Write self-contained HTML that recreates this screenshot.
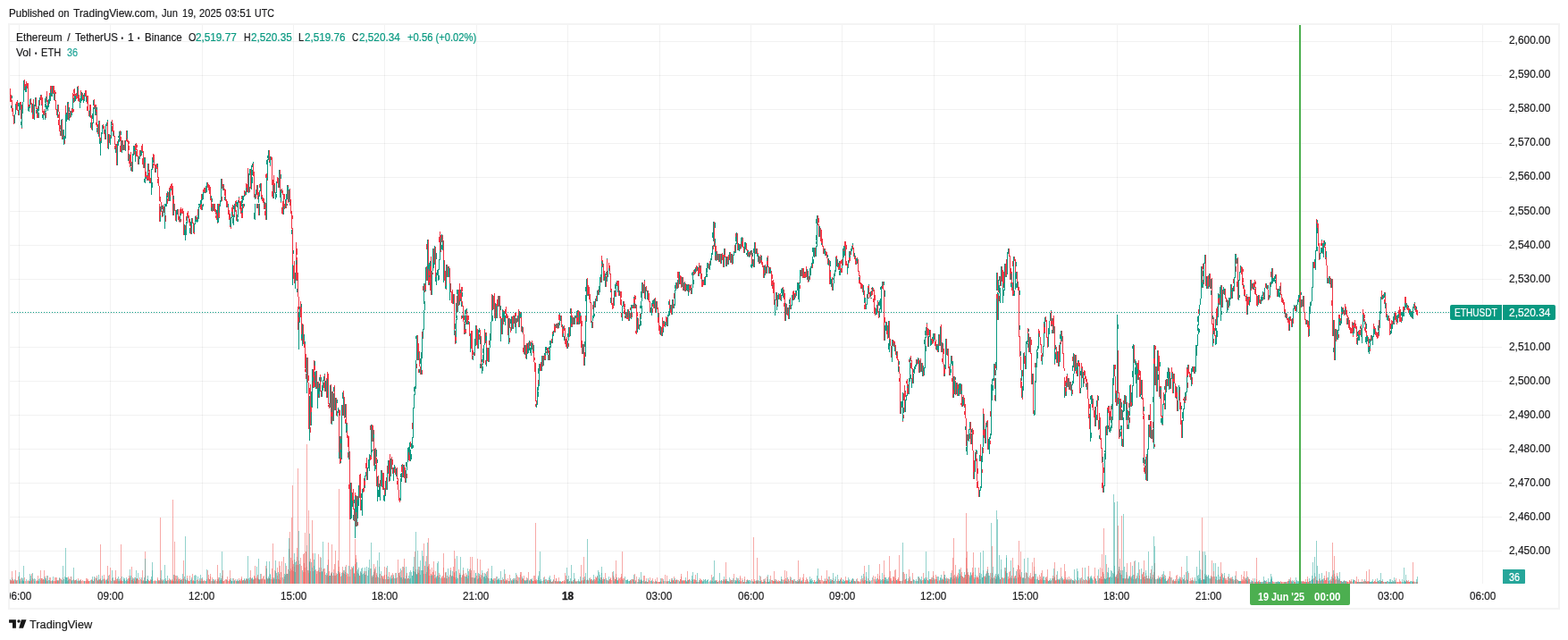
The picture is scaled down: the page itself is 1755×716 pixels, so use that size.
<!DOCTYPE html>
<html lang="en">
<head>
<meta charset="utf-8">
<title>ETHUSDT chart</title>
<style>
html,body{margin:0;padding:0;background:#fff;}
body{width:1755px;height:716px;position:relative;overflow:hidden;font-family:"Liberation Sans","DejaVu Sans",sans-serif;color:#1b1b1d;}
#frame{position:absolute;left:9px;top:26px;width:1733px;height:652px;border:2px solid #f4f4f4;}
#clip{position:absolute;left:11px;top:655px;width:1733px;height:24px;overflow:hidden;}
#clip>#inner{position:absolute;left:-11px;top:-655px;width:1755px;height:716px;}
svg{position:absolute;left:0;top:0;}
.x{position:absolute;white-space:nowrap;display:inline-block;transform-origin:0 0;-webkit-text-stroke:0.2px currentColor;}
.box{position:absolute;}
</style>
</head>
<body>
<div id="frame"></div>
<svg width="1755" height="716" viewBox="0 0 1755 716" shape-rendering="crispEdges">
<g id="grid" stroke="#000" stroke-opacity="0.05" stroke-width="1" fill="none">
<path d="M21.5 28V653M123.5 28V653M226.5 28V653M328.5 28V653M430.5 28V653M533.5 28V653M635.5 28V653M738.5 28V653M840.5 28V653M942.5 28V653M1045.5 28V653M1147.5 28V653M1250.5 28V653M1352.5 28V653M1557.5 28V653M1659.5 28V653"/>
<path d="M11 46.5H1681M11 84.5H1681M11 122.5H1681M11 160.5H1681M11 198.5H1681M11 236.5H1681M11 274.5H1681M11 312.5H1681M11 350.5H1681M11 388.5H1681M11 426.5H1681M11 464.5H1681M11 502.5H1681M11 540.5H1681M11 578.5H1681M11 616.5H1681"/>
</g>
<g id="vol"><path fill="#ef5350" fill-opacity="0.5" d="M12 649v4h1v-4zM14 650v3h1v-3zM15 650v3h1v-3zM18 649v4h1v-4zM20 645v8h1v-8zM23 647v6h1v-6zM27 646v7h1v-7zM28 650v3h1v-3zM30 650v3h1v-3zM31 649v4h1v-4zM32 650v3h1v-3zM35 642v11h1v-11zM37 648v5h1v-5zM40 650v3h1v-3zM41 649v4h1v-4zM46 647v6h1v-6zM47 647v6h1v-6zM48 648v5h1v-5zM49 638v15h1v-15zM52 644v9h1v-9zM53 650v3h1v-3zM55 646v7h1v-7zM57 650v3h1v-3zM60 650v3h1v-3zM61 646v7h1v-7zM62 646v7h1v-7zM63 649v4h1v-4zM65 650v3h1v-3zM66 647v6h1v-6zM67 647v6h1v-6zM70 646v7h1v-7zM76 645v8h1v-8zM78 648v5h1v-5zM82 648v5h1v-5zM84 649v4h1v-4zM85 649v4h1v-4zM87 647v6h1v-6zM88 650v3h1v-3zM90 650v3h1v-3zM91 650v3h1v-3zM92 649v4h1v-4zM93 650v3h1v-3zM95 650v3h1v-3zM96 650v3h1v-3zM97 649v4h1v-4zM98 650v3h1v-3zM99 650v3h1v-3zM102 649v4h1v-4zM106 646v7h1v-7zM107 647v6h1v-6zM108 644v9h1v-9zM109 650v3h1v-3zM111 648v5h1v-5zM116 647v6h1v-6zM117 650v3h1v-3zM120 647v6h1v-6zM122 643v10h1v-10zM123 649v4h1v-4zM125 647v6h1v-6zM127 649v4h1v-4zM129 646v7h1v-7zM130 650v3h1v-3zM132 650v3h1v-3zM134 650v3h1v-3zM135 649v4h1v-4zM137 650v3h1v-3zM143 650v3h1v-3zM144 647v6h1v-6zM145 646v7h1v-7zM147 649v4h1v-4zM148 648v5h1v-5zM150 648v5h1v-5zM152 648v5h1v-5zM153 647v6h1v-6zM155 649v4h1v-4zM156 646v7h1v-7zM157 648v5h1v-5zM159 638v15h1v-15zM162 644v9h1v-9zM163 650v3h1v-3zM166 650v3h1v-3zM167 650v3h1v-3zM168 649v4h1v-4zM171 650v3h1v-3zM172 650v3h1v-3zM173 650v3h1v-3zM176 648v5h1v-5zM177 650v3h1v-3zM178 650v3h1v-3zM180 649v4h1v-4zM181 650v3h1v-3zM188 649v4h1v-4zM191 650v3h1v-3zM192 650v3h1v-3zM193 650v3h1v-3zM195 647v6h1v-6zM199 646v7h1v-7zM200 650v3h1v-3zM201 647v6h1v-6zM203 648v5h1v-5zM205 648v5h1v-5zM207 648v5h1v-5zM209 644v9h1v-9zM210 650v3h1v-3zM211 650v3h1v-3zM212 650v3h1v-3zM215 642v11h1v-11zM216 650v3h1v-3zM220 649v4h1v-4zM223 649v4h1v-4zM225 647v6h1v-6zM227 650v3h1v-3zM228 649v4h1v-4zM229 650v3h1v-3zM232 638v15h1v-15zM233 647v6h1v-6zM235 645v8h1v-8zM237 646v7h1v-7zM240 649v4h1v-4zM241 648v5h1v-5zM242 650v3h1v-3zM244 648v5h1v-5zM245 650v3h1v-3zM248 644v9h1v-9zM249 650v3h1v-3zM250 650v3h1v-3zM251 649v4h1v-4zM252 648v5h1v-5zM253 648v5h1v-5zM254 645v8h1v-8zM255 650v3h1v-3zM256 648v5h1v-5zM257 649v4h1v-4zM263 648v5h1v-5zM264 650v3h1v-3zM266 650v3h1v-3zM267 647v6h1v-6zM268 649v4h1v-4zM269 648v5h1v-5zM270 647v6h1v-6zM272 649v4h1v-4zM274 649v4h1v-4zM276 648v5h1v-5zM277 648v5h1v-5zM280 638v15h1v-15zM281 648v5h1v-5zM284 648v5h1v-5zM285 645v8h1v-8zM286 647v6h1v-6zM288 647v6h1v-6zM289 648v5h1v-5zM292 648v5h1v-5zM294 645v8h1v-8zM295 644v9h1v-9zM296 648v5h1v-5zM297 633v20h1v-20zM301 647v6h1v-6zM303 648v5h1v-5zM304 636v17h1v-17zM305 649v4h1v-4zM307 638v15h1v-15zM310 644v9h1v-9zM313 649v4h1v-4zM314 640v13h1v-13zM315 628v25h1v-25zM317 648v5h1v-5zM318 645v8h1v-8zM322 642v11h1v-11zM325 624v29h1v-29zM326 638v15h1v-15zM328 631v22h1v-22zM329 626v27h1v-27zM333 632v21h1v-21zM334 627v26h1v-26zM336 624v29h1v-29zM337 633v20h1v-20zM339 640v13h1v-13zM340 619v34h1v-34zM341 635v18h1v-18zM342 617v36h1v-36zM343 634v19h1v-19zM344 638v15h1v-15zM347 625v28h1v-28zM349 582v71h1v-71zM353 637v16h1v-16zM354 642v11h1v-11zM355 639v14h1v-14zM356 638v15h1v-15zM357 640v13h1v-13zM358 623v30h1v-30zM359 635v18h1v-18zM361 637v16h1v-16zM362 636v17h1v-17zM363 640v13h1v-13zM366 643v10h1v-10zM367 645v8h1v-8zM368 639v14h1v-14zM372 644v9h1v-9zM373 637v16h1v-16zM374 631v22h1v-22zM376 641v12h1v-12zM378 627v26h1v-26zM379 634v19h1v-19zM380 642v11h1v-11zM381 645v8h1v-8zM383 640v13h1v-13zM385 642v11h1v-11zM387 643v10h1v-10zM388 641v12h1v-12zM389 645v8h1v-8zM391 645v8h1v-8zM393 634v19h1v-19zM394 635v18h1v-18zM396 641v12h1v-12zM397 631v22h1v-22zM398 621v32h1v-32zM400 641v12h1v-12zM402 644v9h1v-9zM403 640v13h1v-13zM407 639v14h1v-14zM409 639v14h1v-14zM414 636v17h1v-17zM416 646v7h1v-7zM421 643v10h1v-10zM423 646v7h1v-7zM425 647v6h1v-6zM427 644v9h1v-9zM429 644v9h1v-9zM430 643v10h1v-10zM432 643v10h1v-10zM434 648v5h1v-5zM435 640v13h1v-13zM438 643v10h1v-10zM439 647v6h1v-6zM442 647v6h1v-6zM444 646v7h1v-7zM445 626v27h1v-27zM449 638v15h1v-15zM450 634v19h1v-19zM452 635v18h1v-18zM454 644v9h1v-9zM467 637v16h1v-16zM468 641v12h1v-12zM469 638v15h1v-15zM473 638v15h1v-15zM474 642v11h1v-11zM475 633v20h1v-20zM477 640v13h1v-13zM479 633v20h1v-20zM480 644v9h1v-9zM481 637v16h1v-16zM482 642v11h1v-11zM483 635v18h1v-18zM484 640v13h1v-13zM485 628v25h1v-25zM487 639v14h1v-14zM491 641v12h1v-12zM494 646v7h1v-7zM495 644v9h1v-9zM496 635v18h1v-18zM498 640v13h1v-13zM500 647v6h1v-6zM503 643v10h1v-10zM504 635v18h1v-18zM505 644v9h1v-9zM507 634v19h1v-19zM508 640v13h1v-13zM509 646v7h1v-7zM513 637v16h1v-16zM514 641v12h1v-12zM516 646v7h1v-7zM517 643v10h1v-10zM519 642v11h1v-11zM521 641v12h1v-12zM522 643v10h1v-10zM525 637v16h1v-16zM527 646v7h1v-7zM528 623v30h1v-30zM529 646v7h1v-7zM530 638v15h1v-15zM531 647v6h1v-6zM533 644v9h1v-9zM534 648v5h1v-5zM537 646v7h1v-7zM538 648v5h1v-5zM540 641v12h1v-12zM544 640v13h1v-13zM545 646v7h1v-7zM546 636v17h1v-17zM551 648v5h1v-5zM552 649v4h1v-4zM553 647v6h1v-6zM555 649v4h1v-4zM561 649v4h1v-4zM563 648v5h1v-5zM565 650v3h1v-3zM566 648v5h1v-5zM568 647v6h1v-6zM570 643v10h1v-10zM573 650v3h1v-3zM576 647v6h1v-6zM578 643v10h1v-10zM579 645v8h1v-8zM580 646v7h1v-7zM582 640v13h1v-13zM583 640v13h1v-13zM585 647v6h1v-6zM588 649v4h1v-4zM589 646v7h1v-7zM591 640v13h1v-13zM593 648v5h1v-5zM594 648v5h1v-5zM596 650v3h1v-3zM597 650v3h1v-3zM598 644v9h1v-9zM599 650v3h1v-3zM600 650v3h1v-3zM607 650v3h1v-3zM609 649v4h1v-4zM612 649v4h1v-4zM613 651v2h1v-2zM617 651v2h1v-2zM620 643v10h1v-10zM621 650v3h1v-3zM622 647v6h1v-6zM624 650v3h1v-3zM627 651v2h1v-2zM628 651v2h1v-2zM629 650v3h1v-3zM630 650v3h1v-3zM632 650v3h1v-3zM633 644v9h1v-9zM635 648v5h1v-5zM637 650v3h1v-3zM640 650v3h1v-3zM642 649v4h1v-4zM647 650v3h1v-3zM649 651v2h1v-2zM650 650v3h1v-3zM651 649v4h1v-4zM653 649v4h1v-4zM657 648v5h1v-5zM658 650v3h1v-3zM660 646v7h1v-7zM661 648v5h1v-5zM663 650v3h1v-3zM665 648v5h1v-5zM666 649v4h1v-4zM667 646v7h1v-7zM672 646v7h1v-7zM674 648v5h1v-5zM675 648v5h1v-5zM677 641v12h1v-12zM678 649v4h1v-4zM680 649v4h1v-4zM682 648v5h1v-5zM683 646v7h1v-7zM684 649v4h1v-4zM685 640v13h1v-13zM686 644v9h1v-9zM687 646v7h1v-7zM688 648v5h1v-5zM692 648v5h1v-5zM693 647v6h1v-6zM694 649v4h1v-4zM695 642v11h1v-11zM696 648v5h1v-5zM697 647v6h1v-6zM698 647v6h1v-6zM705 649v4h1v-4zM706 650v3h1v-3zM707 648v5h1v-5zM708 648v5h1v-5zM710 642v11h1v-11zM712 645v8h1v-8zM719 650v3h1v-3zM720 644v9h1v-9zM721 651v2h1v-2zM724 651v2h1v-2zM726 649v4h1v-4zM727 646v7h1v-7zM730 651v2h1v-2zM731 650v3h1v-3zM733 648v5h1v-5zM735 651v2h1v-2zM736 651v2h1v-2zM737 651v2h1v-2zM740 651v2h1v-2zM741 647v6h1v-6zM743 650v3h1v-3zM744 643v10h1v-10zM746 644v9h1v-9zM751 647v6h1v-6zM753 650v3h1v-3zM754 649v4h1v-4zM757 649v4h1v-4zM759 649v4h1v-4zM761 648v5h1v-5zM762 645v8h1v-8zM764 649v4h1v-4zM765 650v3h1v-3zM766 649v4h1v-4zM769 651v2h1v-2zM771 648v5h1v-5zM773 650v3h1v-3zM776 651v2h1v-2zM777 648v5h1v-5zM779 649v4h1v-4zM781 651v2h1v-2zM783 647v6h1v-6zM784 648v5h1v-5zM793 651v2h1v-2zM799 650v3h1v-3zM801 649v4h1v-4zM802 651v2h1v-2zM804 650v3h1v-3zM808 650v3h1v-3zM809 648v5h1v-5zM811 648v5h1v-5zM812 648v5h1v-5zM814 650v3h1v-3zM817 648v5h1v-5zM818 649v4h1v-4zM819 651v2h1v-2zM821 642v11h1v-11zM825 649v4h1v-4zM828 644v9h1v-9zM830 647v6h1v-6zM831 651v2h1v-2zM832 651v2h1v-2zM835 649v4h1v-4zM836 648v5h1v-5zM841 648v5h1v-5zM843 651v2h1v-2zM844 650v3h1v-3zM845 650v3h1v-3zM847 651v2h1v-2zM849 650v3h1v-3zM851 645v8h1v-8zM852 649v4h1v-4zM853 651v2h1v-2zM854 648v5h1v-5zM856 650v3h1v-3zM857 651v2h1v-2zM860 651v2h1v-2zM862 651v2h1v-2zM864 649v4h1v-4zM865 650v3h1v-3zM869 651v2h1v-2zM871 649v4h1v-4zM872 650v3h1v-3zM873 651v2h1v-2zM875 648v5h1v-5zM877 648v5h1v-5zM878 649v4h1v-4zM879 647v6h1v-6zM881 651v2h1v-2zM882 648v5h1v-5zM884 648v5h1v-5zM886 649v4h1v-4zM887 649v4h1v-4zM889 648v5h1v-5zM890 650v3h1v-3zM893 651v2h1v-2zM895 648v5h1v-5zM897 650v3h1v-3zM898 651v2h1v-2zM899 642v11h1v-11zM902 651v2h1v-2zM904 651v2h1v-2zM911 649v4h1v-4zM915 651v2h1v-2zM916 648v5h1v-5zM917 649v4h1v-4zM918 651v2h1v-2zM919 644v9h1v-9zM920 649v4h1v-4zM921 650v3h1v-3zM923 647v6h1v-6zM924 650v3h1v-3zM925 650v3h1v-3zM926 648v5h1v-5zM928 645v8h1v-8zM931 649v4h1v-4zM932 647v6h1v-6zM933 650v3h1v-3zM936 650v3h1v-3zM937 650v3h1v-3zM938 648v5h1v-5zM941 647v6h1v-6zM946 649v4h1v-4zM947 650v3h1v-3zM948 650v3h1v-3zM951 651v2h1v-2zM952 649v4h1v-4zM955 650v3h1v-3zM957 651v2h1v-2zM960 651v2h1v-2zM962 651v2h1v-2zM963 650v3h1v-3zM965 649v4h1v-4zM967 649v4h1v-4zM968 649v4h1v-4zM971 647v6h1v-6zM973 651v2h1v-2zM975 649v4h1v-4zM977 644v9h1v-9zM978 648v5h1v-5zM979 650v3h1v-3zM982 647v6h1v-6zM983 649v4h1v-4zM984 644v9h1v-9zM988 650v3h1v-3zM989 643v10h1v-10zM992 650v3h1v-3zM994 650v3h1v-3zM995 645v8h1v-8zM996 639v14h1v-14zM997 649v4h1v-4zM1000 645v8h1v-8zM1001 650v3h1v-3zM1002 637v16h1v-16zM1004 650v3h1v-3zM1005 646v7h1v-7zM1006 650v3h1v-3zM1007 650v3h1v-3zM1009 650v3h1v-3zM1010 640v13h1v-13zM1011 640v13h1v-13zM1012 649v4h1v-4zM1013 648v5h1v-5zM1016 650v3h1v-3zM1017 649v4h1v-4zM1019 650v3h1v-3zM1020 650v3h1v-3zM1021 641v12h1v-12zM1024 650v3h1v-3zM1030 649v4h1v-4zM1032 649v4h1v-4zM1033 649v4h1v-4zM1037 646v7h1v-7zM1038 649v4h1v-4zM1041 648v5h1v-5zM1042 648v5h1v-5zM1044 644v9h1v-9zM1046 648v5h1v-5zM1047 648v5h1v-5zM1048 648v5h1v-5zM1051 649v4h1v-4zM1055 649v4h1v-4zM1056 646v7h1v-7zM1059 648v5h1v-5zM1062 648v5h1v-5zM1066 624v29h1v-29zM1068 647v6h1v-6zM1069 645v8h1v-8zM1071 643v10h1v-10zM1072 641v12h1v-12zM1076 640v13h1v-13zM1078 647v6h1v-6zM1080 643v10h1v-10zM1081 624v29h1v-29zM1083 643v10h1v-10zM1084 643v10h1v-10zM1087 643v10h1v-10zM1088 635v18h1v-18zM1089 640v13h1v-13zM1090 646v7h1v-7zM1092 646v7h1v-7zM1093 645v8h1v-8zM1094 646v7h1v-7zM1097 648v5h1v-5zM1101 645v8h1v-8zM1102 645v8h1v-8zM1104 639v14h1v-14zM1105 634v19h1v-19zM1108 648v5h1v-5zM1109 646v7h1v-7zM1112 646v7h1v-7zM1113 644v9h1v-9zM1114 648v5h1v-5zM1116 643v10h1v-10zM1119 648v5h1v-5zM1121 646v7h1v-7zM1122 646v7h1v-7zM1125 635v18h1v-18zM1128 648v5h1v-5zM1129 640v13h1v-13zM1130 647v6h1v-6zM1132 644v9h1v-9zM1133 624v29h1v-29zM1135 645v8h1v-8zM1136 644v9h1v-9zM1138 637v16h1v-16zM1139 646v7h1v-7zM1140 633v20h1v-20zM1141 643v10h1v-10zM1142 645v8h1v-8zM1144 646v7h1v-7zM1146 641v12h1v-12zM1147 647v6h1v-6zM1148 640v13h1v-13zM1149 641v12h1v-12zM1151 646v7h1v-7zM1152 644v9h1v-9zM1153 648v5h1v-5zM1154 646v7h1v-7zM1156 645v8h1v-8zM1157 634v19h1v-19zM1163 649v4h1v-4zM1164 645v8h1v-8zM1165 641v12h1v-12zM1166 647v6h1v-6zM1171 645v8h1v-8zM1172 649v4h1v-4zM1174 649v4h1v-4zM1178 647v6h1v-6zM1180 645v8h1v-8zM1181 650v3h1v-3zM1182 643v10h1v-10zM1184 649v4h1v-4zM1185 649v4h1v-4zM1187 635v18h1v-18zM1189 649v4h1v-4zM1190 648v5h1v-5zM1191 650v3h1v-3zM1192 646v7h1v-7zM1194 646v7h1v-7zM1195 649v4h1v-4zM1196 650v3h1v-3zM1198 647v6h1v-6zM1202 650v3h1v-3zM1204 649v4h1v-4zM1207 649v4h1v-4zM1209 649v4h1v-4zM1211 635v18h1v-18zM1213 649v4h1v-4zM1215 649v4h1v-4zM1216 649v4h1v-4zM1217 650v3h1v-3zM1223 649v4h1v-4zM1224 645v8h1v-8zM1225 635v18h1v-18zM1228 644v9h1v-9zM1229 649v4h1v-4zM1231 635v18h1v-18zM1232 648v5h1v-5zM1233 648v5h1v-5zM1238 631v22h1v-22zM1241 646v7h1v-7zM1247 640v13h1v-13zM1248 645v8h1v-8zM1249 643v10h1v-10zM1250 642v11h1v-11zM1251 639v14h1v-14zM1252 637v16h1v-16zM1253 625v28h1v-28zM1255 643v10h1v-10zM1259 647v6h1v-6zM1261 643v10h1v-10zM1263 647v6h1v-6zM1265 629v24h1v-24zM1269 628v25h1v-25zM1272 644v9h1v-9zM1275 637v16h1v-16zM1278 642v11h1v-11zM1280 645v8h1v-8zM1281 648v5h1v-5zM1283 647v6h1v-6zM1284 647v6h1v-6zM1285 644v9h1v-9zM1286 647v6h1v-6zM1288 637v16h1v-16zM1290 643v10h1v-10zM1292 630v23h1v-23zM1294 648v5h1v-5zM1299 648v5h1v-5zM1300 646v7h1v-7zM1303 643v10h1v-10zM1306 650v3h1v-3zM1307 647v6h1v-6zM1308 645v8h1v-8zM1309 639v14h1v-14zM1311 646v7h1v-7zM1313 649v4h1v-4zM1314 650v3h1v-3zM1315 648v5h1v-5zM1316 644v9h1v-9zM1317 643v10h1v-10zM1320 648v5h1v-5zM1321 648v5h1v-5zM1325 647v6h1v-6zM1326 649v4h1v-4zM1327 640v13h1v-13zM1330 641v12h1v-12zM1331 650v3h1v-3zM1332 650v3h1v-3zM1334 646v7h1v-7zM1336 650v3h1v-3zM1337 648v5h1v-5zM1345 638v15h1v-15zM1346 649v4h1v-4zM1349 644v9h1v-9zM1355 644v9h1v-9zM1356 648v5h1v-5zM1357 645v8h1v-8zM1359 645v8h1v-8zM1362 649v4h1v-4zM1364 649v4h1v-4zM1366 648v5h1v-5zM1367 643v10h1v-10zM1371 649v4h1v-4zM1372 647v6h1v-6zM1373 649v4h1v-4zM1374 645v8h1v-8zM1377 646v7h1v-7zM1378 648v5h1v-5zM1379 648v5h1v-5zM1381 649v4h1v-4zM1383 650v3h1v-3zM1385 649v4h1v-4zM1389 650v3h1v-3zM1390 648v5h1v-5zM1391 645v8h1v-8zM1392 639v14h1v-14zM1393 648v5h1v-5zM1397 646v7h1v-7zM1403 651v2h1v-2zM1404 651v2h1v-2zM1405 651v2h1v-2zM1406 650v3h1v-3zM1407 651v2h1v-2zM1409 649v4h1v-4zM1410 651v2h1v-2zM1413 651v2h1v-2zM1414 650v3h1v-3zM1416 650v3h1v-3zM1418 651v2h1v-2zM1419 651v2h1v-2zM1421 651v2h1v-2zM1424 651v2h1v-2zM1425 651v2h1v-2zM1426 651v2h1v-2zM1428 651v2h1v-2zM1429 651v2h1v-2zM1433 650v3h1v-3zM1434 651v2h1v-2zM1435 651v2h1v-2zM1436 651v2h1v-2zM1438 651v2h1v-2zM1440 651v2h1v-2zM1441 650v3h1v-3zM1442 648v5h1v-5zM1444 646v7h1v-7zM1445 651v2h1v-2zM1449 651v2h1v-2zM1455 651v2h1v-2zM1457 651v2h1v-2zM1459 651v2h1v-2zM1460 651v2h1v-2zM1461 648v5h1v-5zM1463 645v8h1v-8zM1464 651v2h1v-2zM1465 650v3h1v-3zM1466 650v3h1v-3zM1470 647v6h1v-6zM1472 645v8h1v-8zM1473 649v4h1v-4zM1475 650v3h1v-3zM1479 648v5h1v-5zM1482 644v9h1v-9zM1483 649v4h1v-4zM1484 649v4h1v-4zM1485 646v7h1v-7zM1489 648v5h1v-5zM1491 643v10h1v-10zM1493 642v11h1v-11zM1495 648v5h1v-5zM1496 641v12h1v-12zM1497 649v4h1v-4zM1498 649v4h1v-4zM1499 648v5h1v-5zM1500 650v3h1v-3zM1502 651v2h1v-2zM1505 650v3h1v-3zM1507 651v2h1v-2zM1508 651v2h1v-2zM1509 651v2h1v-2zM1510 649v4h1v-4zM1513 651v2h1v-2zM1516 649v4h1v-4zM1517 650v3h1v-3zM1518 645v8h1v-8zM1521 651v2h1v-2zM1526 650v3h1v-3zM1527 651v2h1v-2zM1530 651v2h1v-2zM1531 651v2h1v-2zM1536 651v2h1v-2zM1538 650v3h1v-3zM1540 651v2h1v-2zM1543 651v2h1v-2zM1545 650v3h1v-3zM1548 651v2h1v-2zM1550 651v2h1v-2zM1551 651v2h1v-2zM1555 651v2h1v-2zM1558 651v2h1v-2zM1560 651v2h1v-2zM1563 651v2h1v-2zM1564 651v2h1v-2zM1565 651v2h1v-2zM1566 651v2h1v-2zM1567 651v2h1v-2zM1568 651v2h1v-2zM1573 651v2h1v-2zM1574 650v3h1v-3zM1576 649v4h1v-4zM1577 651v2h1v-2zM1582 651v2h1v-2zM1584 651v2h1v-2z"/>
<path fill="#26a69a" fill-opacity="0.5" d="M11 648v5h1v-5zM13 646v7h1v-7zM16 648v5h1v-5zM17 649v4h1v-4zM19 649v4h1v-4zM21 644v9h1v-9zM22 648v5h1v-5zM24 650v3h1v-3zM25 649v4h1v-4zM26 650v3h1v-3zM29 648v5h1v-5zM33 642v11h1v-11zM34 644v9h1v-9zM36 641v12h1v-12zM38 647v6h1v-6zM39 648v5h1v-5zM42 650v3h1v-3zM43 648v5h1v-5zM44 647v6h1v-6zM45 649v4h1v-4zM50 645v8h1v-8zM51 649v4h1v-4zM54 649v4h1v-4zM56 650v3h1v-3zM58 650v3h1v-3zM59 645v8h1v-8zM64 649v4h1v-4zM68 648v5h1v-5zM69 649v4h1v-4zM71 648v5h1v-5zM72 645v8h1v-8zM73 649v4h1v-4zM74 646v7h1v-7zM75 646v7h1v-7zM77 648v5h1v-5zM79 645v8h1v-8zM80 650v3h1v-3zM81 649v4h1v-4zM83 650v3h1v-3zM86 650v3h1v-3zM89 649v4h1v-4zM94 650v3h1v-3zM100 650v3h1v-3zM101 649v4h1v-4zM103 645v8h1v-8zM104 650v3h1v-3zM105 645v8h1v-8zM110 648v5h1v-5zM112 647v6h1v-6zM113 650v3h1v-3zM114 644v9h1v-9zM115 648v5h1v-5zM118 649v4h1v-4zM119 649v4h1v-4zM121 650v3h1v-3zM124 650v3h1v-3zM126 646v7h1v-7zM128 649v4h1v-4zM131 647v6h1v-6zM133 650v3h1v-3zM136 645v8h1v-8zM138 646v7h1v-7zM139 647v6h1v-6zM140 650v3h1v-3zM141 649v4h1v-4zM142 648v5h1v-5zM146 644v9h1v-9zM149 647v6h1v-6zM151 646v7h1v-7zM154 641v12h1v-12zM158 646v7h1v-7zM160 650v3h1v-3zM161 646v7h1v-7zM164 650v3h1v-3zM165 644v9h1v-9zM169 649v4h1v-4zM170 638v15h1v-15zM174 650v3h1v-3zM175 650v3h1v-3zM179 650v3h1v-3zM182 649v4h1v-4zM183 648v5h1v-5zM184 650v3h1v-3zM185 647v6h1v-6zM186 650v3h1v-3zM187 644v9h1v-9zM189 650v3h1v-3zM190 648v5h1v-5zM194 643v10h1v-10zM196 650v3h1v-3zM197 648v5h1v-5zM198 650v3h1v-3zM202 649v4h1v-4zM204 650v3h1v-3zM206 645v8h1v-8zM208 649v4h1v-4zM213 649v4h1v-4zM214 648v5h1v-5zM217 650v3h1v-3zM218 643v10h1v-10zM219 644v9h1v-9zM221 645v8h1v-8zM222 650v3h1v-3zM224 643v10h1v-10zM226 646v7h1v-7zM230 650v3h1v-3zM231 650v3h1v-3zM234 648v5h1v-5zM236 650v3h1v-3zM238 648v5h1v-5zM239 648v5h1v-5zM243 650v3h1v-3zM246 649v4h1v-4zM247 647v6h1v-6zM258 649v4h1v-4zM259 650v3h1v-3zM260 647v6h1v-6zM261 650v3h1v-3zM262 649v4h1v-4zM265 649v4h1v-4zM271 650v3h1v-3zM273 648v5h1v-5zM275 647v6h1v-6zM278 647v6h1v-6zM279 649v4h1v-4zM282 646v7h1v-7zM283 648v5h1v-5zM287 634v19h1v-19zM290 649v4h1v-4zM291 642v11h1v-11zM293 648v5h1v-5zM298 646v7h1v-7zM299 648v5h1v-5zM300 647v6h1v-6zM302 642v11h1v-11zM306 646v7h1v-7zM308 627v26h1v-26zM309 641v12h1v-12zM311 640v13h1v-13zM312 648v5h1v-5zM316 646v7h1v-7zM319 643v10h1v-10zM320 642v11h1v-11zM321 642v11h1v-11zM323 602v51h1v-51zM324 639v14h1v-14zM327 634v19h1v-19zM330 629v24h1v-24zM331 628v25h1v-25zM332 623v30h1v-30zM335 631v22h1v-22zM338 638v15h1v-15zM345 638v15h1v-15zM346 628v25h1v-25zM348 629v24h1v-24zM350 639v14h1v-14zM351 633v20h1v-20zM352 638v15h1v-15zM360 639v14h1v-14zM364 643v10h1v-10zM365 641v12h1v-12zM369 644v9h1v-9zM370 642v11h1v-11zM371 640v13h1v-13zM375 644v9h1v-9zM377 642v11h1v-11zM382 641v12h1v-12zM384 641v12h1v-12zM386 640v13h1v-13zM390 633v20h1v-20zM392 637v16h1v-16zM395 633v20h1v-20zM399 639v14h1v-14zM401 642v11h1v-11zM404 641v12h1v-12zM405 635v18h1v-18zM406 642v11h1v-11zM408 635v18h1v-18zM410 634v19h1v-19zM411 644v9h1v-9zM412 638v15h1v-15zM413 626v27h1v-27zM415 636v17h1v-17zM417 645v8h1v-8zM418 640v13h1v-13zM419 636v17h1v-17zM420 646v7h1v-7zM422 645v8h1v-8zM424 618v35h1v-35zM426 639v14h1v-14zM428 647v6h1v-6zM431 648v5h1v-5zM433 633v20h1v-20zM436 646v7h1v-7zM437 648v5h1v-5zM440 643v10h1v-10zM441 647v6h1v-6zM443 641v12h1v-12zM446 641v12h1v-12zM447 644v9h1v-9zM448 646v7h1v-7zM451 634v19h1v-19zM453 647v6h1v-6zM455 648v5h1v-5zM456 647v6h1v-6zM457 644v9h1v-9zM458 640v13h1v-13zM459 638v15h1v-15zM460 640v13h1v-13zM461 644v9h1v-9zM462 639v14h1v-14zM463 623v30h1v-30zM464 640v13h1v-13zM465 637v16h1v-16zM466 642v11h1v-11zM470 643v10h1v-10zM471 638v15h1v-15zM472 616v37h1v-37zM476 628v25h1v-25zM478 634v19h1v-19zM486 643v10h1v-10zM488 645v8h1v-8zM489 630v23h1v-23zM490 628v25h1v-25zM492 643v10h1v-10zM493 647v6h1v-6zM497 646v7h1v-7zM499 640v13h1v-13zM501 636v17h1v-17zM502 645v8h1v-8zM506 639v14h1v-14zM510 648v5h1v-5zM511 646v7h1v-7zM512 647v6h1v-6zM515 643v10h1v-10zM518 635v18h1v-18zM520 645v8h1v-8zM523 636v17h1v-17zM524 639v14h1v-14zM526 641v12h1v-12zM532 641v12h1v-12zM535 647v6h1v-6zM536 642v11h1v-11zM539 638v15h1v-15zM541 645v8h1v-8zM542 645v8h1v-8zM543 647v6h1v-6zM547 647v6h1v-6zM548 650v3h1v-3zM549 647v6h1v-6zM550 647v6h1v-6zM554 647v6h1v-6zM556 645v8h1v-8zM557 648v5h1v-5zM558 647v6h1v-6zM559 649v4h1v-4zM560 639v14h1v-14zM562 646v7h1v-7zM564 650v3h1v-3zM567 650v3h1v-3zM569 650v3h1v-3zM571 647v6h1v-6zM572 649v4h1v-4zM574 647v6h1v-6zM575 647v6h1v-6zM577 641v12h1v-12zM581 646v7h1v-7zM584 645v8h1v-8zM586 649v4h1v-4zM587 649v4h1v-4zM590 649v4h1v-4zM592 650v3h1v-3zM595 647v6h1v-6zM601 649v4h1v-4zM602 646v7h1v-7zM603 649v4h1v-4zM604 651v2h1v-2zM605 648v5h1v-5zM606 650v3h1v-3zM608 646v7h1v-7zM610 648v5h1v-5zM611 648v5h1v-5zM614 646v7h1v-7zM615 644v9h1v-9zM616 648v5h1v-5zM618 650v3h1v-3zM619 648v5h1v-5zM623 650v3h1v-3zM625 650v3h1v-3zM626 651v2h1v-2zM631 651v2h1v-2zM634 648v5h1v-5zM636 651v2h1v-2zM638 647v6h1v-6zM639 651v2h1v-2zM641 649v4h1v-4zM643 647v6h1v-6zM644 651v2h1v-2zM645 651v2h1v-2zM646 650v3h1v-3zM648 651v2h1v-2zM652 650v3h1v-3zM654 648v5h1v-5zM655 641v12h1v-12zM656 649v4h1v-4zM659 647v6h1v-6zM662 650v3h1v-3zM664 648v5h1v-5zM668 644v9h1v-9zM669 650v3h1v-3zM670 640v13h1v-13zM671 648v5h1v-5zM673 646v7h1v-7zM676 648v5h1v-5zM679 649v4h1v-4zM681 645v8h1v-8zM689 648v5h1v-5zM690 649v4h1v-4zM691 650v3h1v-3zM699 645v8h1v-8zM700 649v4h1v-4zM701 649v4h1v-4zM702 649v4h1v-4zM703 650v3h1v-3zM704 650v3h1v-3zM709 649v4h1v-4zM711 650v3h1v-3zM713 651v2h1v-2zM714 651v2h1v-2zM715 648v5h1v-5zM716 651v2h1v-2zM717 648v5h1v-5zM718 649v4h1v-4zM722 650v3h1v-3zM723 650v3h1v-3zM725 647v6h1v-6zM728 650v3h1v-3zM729 650v3h1v-3zM732 651v2h1v-2zM734 650v3h1v-3zM738 651v2h1v-2zM739 647v6h1v-6zM742 650v3h1v-3zM745 650v3h1v-3zM747 650v3h1v-3zM748 650v3h1v-3zM749 648v5h1v-5zM750 651v2h1v-2zM752 647v6h1v-6zM755 651v2h1v-2zM756 649v4h1v-4zM758 649v4h1v-4zM760 650v3h1v-3zM763 649v4h1v-4zM767 646v7h1v-7zM768 651v2h1v-2zM770 649v4h1v-4zM772 649v4h1v-4zM774 648v5h1v-5zM775 649v4h1v-4zM778 649v4h1v-4zM780 651v2h1v-2zM782 649v4h1v-4zM785 649v4h1v-4zM786 651v2h1v-2zM787 650v3h1v-3zM788 649v4h1v-4zM789 648v5h1v-5zM790 650v3h1v-3zM791 649v4h1v-4zM792 648v5h1v-5zM794 650v3h1v-3zM795 649v4h1v-4zM796 650v3h1v-3zM797 646v7h1v-7zM798 645v8h1v-8zM800 650v3h1v-3zM803 651v2h1v-2zM805 641v12h1v-12zM806 650v3h1v-3zM807 649v4h1v-4zM810 645v8h1v-8zM813 650v3h1v-3zM815 651v2h1v-2zM816 646v7h1v-7zM820 649v4h1v-4zM822 649v4h1v-4zM823 649v4h1v-4zM824 646v7h1v-7zM826 650v3h1v-3zM827 649v4h1v-4zM829 651v2h1v-2zM833 648v5h1v-5zM834 651v2h1v-2zM837 650v3h1v-3zM838 651v2h1v-2zM839 649v4h1v-4zM840 650v3h1v-3zM842 651v2h1v-2zM846 650v3h1v-3zM848 649v4h1v-4zM850 644v9h1v-9zM855 650v3h1v-3zM858 651v2h1v-2zM859 648v5h1v-5zM861 648v5h1v-5zM863 649v4h1v-4zM866 650v3h1v-3zM867 648v5h1v-5zM868 650v3h1v-3zM870 650v3h1v-3zM874 645v8h1v-8zM876 649v4h1v-4zM880 650v3h1v-3zM883 650v3h1v-3zM885 646v7h1v-7zM888 648v5h1v-5zM891 650v3h1v-3zM892 651v2h1v-2zM894 650v3h1v-3zM896 650v3h1v-3zM900 651v2h1v-2zM901 651v2h1v-2zM903 648v5h1v-5zM905 651v2h1v-2zM906 645v8h1v-8zM907 650v3h1v-3zM908 647v6h1v-6zM909 649v4h1v-4zM910 651v2h1v-2zM912 651v2h1v-2zM913 651v2h1v-2zM914 644v9h1v-9zM922 650v3h1v-3zM927 645v8h1v-8zM929 648v5h1v-5zM930 650v3h1v-3zM934 648v5h1v-5zM935 645v8h1v-8zM939 650v3h1v-3zM940 648v5h1v-5zM942 650v3h1v-3zM943 651v2h1v-2zM944 651v2h1v-2zM945 650v3h1v-3zM949 650v3h1v-3zM950 649v4h1v-4zM953 648v5h1v-5zM954 647v6h1v-6zM956 650v3h1v-3zM958 648v5h1v-5zM959 650v3h1v-3zM961 651v2h1v-2zM964 644v9h1v-9zM966 642v11h1v-11zM969 645v8h1v-8zM970 650v3h1v-3zM972 650v3h1v-3zM974 650v3h1v-3zM976 646v7h1v-7zM980 648v5h1v-5zM981 650v3h1v-3zM985 650v3h1v-3zM986 649v4h1v-4zM987 648v5h1v-5zM990 649v4h1v-4zM991 646v7h1v-7zM993 648v5h1v-5zM998 650v3h1v-3zM999 649v4h1v-4zM1003 649v4h1v-4zM1008 650v3h1v-3zM1014 647v6h1v-6zM1015 650v3h1v-3zM1018 645v8h1v-8zM1022 648v5h1v-5zM1023 649v4h1v-4zM1025 648v5h1v-5zM1026 650v3h1v-3zM1027 645v8h1v-8zM1028 645v8h1v-8zM1029 647v6h1v-6zM1031 645v8h1v-8zM1034 647v6h1v-6zM1035 646v7h1v-7zM1036 648v5h1v-5zM1039 639v14h1v-14zM1040 648v5h1v-5zM1043 646v7h1v-7zM1045 649v4h1v-4zM1049 650v3h1v-3zM1050 645v8h1v-8zM1052 646v7h1v-7zM1053 643v10h1v-10zM1054 648v5h1v-5zM1057 643v10h1v-10zM1058 647v6h1v-6zM1060 647v6h1v-6zM1061 648v5h1v-5zM1063 646v7h1v-7zM1064 646v7h1v-7zM1065 646v7h1v-7zM1067 644v9h1v-9zM1070 645v8h1v-8zM1073 645v8h1v-8zM1074 642v11h1v-11zM1075 644v9h1v-9zM1077 645v8h1v-8zM1079 640v13h1v-13zM1082 641v12h1v-12zM1085 644v9h1v-9zM1086 640v13h1v-13zM1091 643v10h1v-10zM1095 648v5h1v-5zM1096 644v9h1v-9zM1098 642v11h1v-11zM1099 646v7h1v-7zM1100 638v15h1v-15zM1103 642v11h1v-11zM1106 641v12h1v-12zM1107 644v9h1v-9zM1110 647v6h1v-6zM1111 634v19h1v-19zM1115 645v8h1v-8zM1117 644v9h1v-9zM1118 646v7h1v-7zM1120 637v16h1v-16zM1123 647v6h1v-6zM1124 646v7h1v-7zM1126 641v12h1v-12zM1127 641v12h1v-12zM1131 646v7h1v-7zM1134 635v18h1v-18zM1137 639v14h1v-14zM1143 640v13h1v-13zM1145 647v6h1v-6zM1150 645v8h1v-8zM1155 645v8h1v-8zM1158 642v11h1v-11zM1159 642v11h1v-11zM1160 648v5h1v-5zM1161 647v6h1v-6zM1162 649v4h1v-4zM1167 645v8h1v-8zM1168 645v8h1v-8zM1169 649v4h1v-4zM1170 646v7h1v-7zM1173 650v3h1v-3zM1175 647v6h1v-6zM1176 649v4h1v-4zM1177 647v6h1v-6zM1179 647v6h1v-6zM1183 648v5h1v-5zM1186 649v4h1v-4zM1188 645v8h1v-8zM1193 648v5h1v-5zM1197 649v4h1v-4zM1199 648v5h1v-5zM1200 649v4h1v-4zM1201 650v3h1v-3zM1203 648v5h1v-5zM1205 636v17h1v-17zM1206 639v14h1v-14zM1208 647v6h1v-6zM1210 646v7h1v-7zM1212 648v5h1v-5zM1214 635v18h1v-18zM1218 645v8h1v-8zM1219 649v4h1v-4zM1220 647v6h1v-6zM1221 646v7h1v-7zM1222 647v6h1v-6zM1226 648v5h1v-5zM1227 650v3h1v-3zM1230 647v6h1v-6zM1234 648v5h1v-5zM1235 645v8h1v-8zM1236 648v5h1v-5zM1237 648v5h1v-5zM1239 640v13h1v-13zM1240 635v18h1v-18zM1242 646v7h1v-7zM1243 638v15h1v-15zM1244 639v14h1v-14zM1245 641v12h1v-12zM1246 642v11h1v-11zM1254 638v15h1v-15zM1256 647v6h1v-6zM1257 647v6h1v-6zM1258 634v19h1v-19zM1260 647v6h1v-6zM1262 648v5h1v-5zM1264 644v9h1v-9zM1266 647v6h1v-6zM1267 644v9h1v-9zM1268 648v5h1v-5zM1270 627v26h1v-26zM1271 647v6h1v-6zM1273 641v12h1v-12zM1274 629v24h1v-24zM1276 648v5h1v-5zM1277 648v5h1v-5zM1279 646v7h1v-7zM1282 641v12h1v-12zM1287 645v8h1v-8zM1289 646v7h1v-7zM1291 647v6h1v-6zM1293 648v5h1v-5zM1295 647v6h1v-6zM1296 648v5h1v-5zM1297 646v7h1v-7zM1298 645v8h1v-8zM1301 646v7h1v-7zM1302 645v8h1v-8zM1304 644v9h1v-9zM1305 650v3h1v-3zM1310 646v7h1v-7zM1312 650v3h1v-3zM1318 650v3h1v-3zM1319 650v3h1v-3zM1322 650v3h1v-3zM1323 646v7h1v-7zM1324 648v5h1v-5zM1328 649v4h1v-4zM1329 649v4h1v-4zM1333 649v4h1v-4zM1335 650v3h1v-3zM1338 650v3h1v-3zM1339 650v3h1v-3zM1340 644v9h1v-9zM1341 648v5h1v-5zM1342 649v4h1v-4zM1343 647v6h1v-6zM1344 649v4h1v-4zM1347 648v5h1v-5zM1348 649v4h1v-4zM1350 643v10h1v-10zM1351 645v8h1v-8zM1352 644v9h1v-9zM1353 647v6h1v-6zM1354 647v6h1v-6zM1358 630v23h1v-23zM1360 648v5h1v-5zM1361 645v8h1v-8zM1363 643v10h1v-10zM1365 645v8h1v-8zM1368 642v11h1v-11zM1369 647v6h1v-6zM1370 641v12h1v-12zM1375 650v3h1v-3zM1376 647v6h1v-6zM1380 648v5h1v-5zM1382 644v9h1v-9zM1384 648v5h1v-5zM1386 650v3h1v-3zM1387 650v3h1v-3zM1388 650v3h1v-3zM1394 647v6h1v-6zM1395 649v4h1v-4zM1396 650v3h1v-3zM1398 648v5h1v-5zM1399 651v2h1v-2zM1400 649v4h1v-4zM1401 650v3h1v-3zM1402 650v3h1v-3zM1408 651v2h1v-2zM1411 651v2h1v-2zM1412 651v2h1v-2zM1415 649v4h1v-4zM1417 649v4h1v-4zM1420 651v2h1v-2zM1422 649v4h1v-4zM1423 647v6h1v-6zM1427 651v2h1v-2zM1430 650v3h1v-3zM1431 651v2h1v-2zM1432 651v2h1v-2zM1437 651v2h1v-2zM1439 651v2h1v-2zM1443 650v3h1v-3zM1446 649v4h1v-4zM1447 650v3h1v-3zM1448 651v2h1v-2zM1450 646v7h1v-7zM1451 651v2h1v-2zM1452 650v3h1v-3zM1453 650v3h1v-3zM1454 651v2h1v-2zM1456 651v2h1v-2zM1458 651v2h1v-2zM1462 651v2h1v-2zM1467 649v4h1v-4zM1468 648v5h1v-5zM1469 648v5h1v-5zM1471 641v12h1v-12zM1474 649v4h1v-4zM1476 642v11h1v-11zM1477 647v6h1v-6zM1478 649v4h1v-4zM1480 649v4h1v-4zM1481 647v6h1v-6zM1486 646v7h1v-7zM1487 640v13h1v-13zM1488 649v4h1v-4zM1490 645v8h1v-8zM1492 638v15h1v-15zM1494 649v4h1v-4zM1501 650v3h1v-3zM1503 650v3h1v-3zM1504 649v4h1v-4zM1506 651v2h1v-2zM1511 651v2h1v-2zM1512 650v3h1v-3zM1514 648v5h1v-5zM1515 649v4h1v-4zM1519 651v2h1v-2zM1520 651v2h1v-2zM1522 651v2h1v-2zM1523 651v2h1v-2zM1524 651v2h1v-2zM1525 651v2h1v-2zM1528 650v3h1v-3zM1529 651v2h1v-2zM1532 650v3h1v-3zM1533 651v2h1v-2zM1534 651v2h1v-2zM1535 650v3h1v-3zM1537 651v2h1v-2zM1539 651v2h1v-2zM1541 647v6h1v-6zM1542 650v3h1v-3zM1544 649v4h1v-4zM1546 650v3h1v-3zM1547 648v5h1v-5zM1549 651v2h1v-2zM1552 651v2h1v-2zM1553 650v3h1v-3zM1554 651v2h1v-2zM1556 651v2h1v-2zM1557 651v2h1v-2zM1559 650v3h1v-3zM1561 651v2h1v-2zM1562 651v2h1v-2zM1569 648v5h1v-5zM1570 651v2h1v-2zM1571 649v4h1v-4zM1572 650v3h1v-3zM1575 650v3h1v-3zM1578 651v2h1v-2zM1579 650v3h1v-3zM1580 651v2h1v-2zM1581 651v2h1v-2zM1583 651v2h1v-2zM1585 648v5h1v-5zM1586 645v8h1v-8z"/>
<path fill="#ef5350" fill-opacity="0.5" d="M11 649v4h1v-4zM12 650v3h1v-3zM13 639v14h1v-14zM14 648v5h1v-5zM15 649v4h1v-4zM17 638v15h1v-15zM18 650v3h1v-3zM34 650v3h1v-3zM35 649v4h1v-4zM41 650v3h1v-3zM42 644v9h1v-9zM45 638v15h1v-15zM46 647v6h1v-6zM47 649v4h1v-4zM49 649v4h1v-4zM52 650v3h1v-3zM56 646v7h1v-7zM59 650v3h1v-3zM61 650v3h1v-3zM62 650v3h1v-3zM63 646v7h1v-7zM65 649v4h1v-4zM68 648v5h1v-5zM70 650v3h1v-3zM77 647v6h1v-6zM79 645v8h1v-8zM83 649v4h1v-4zM84 649v4h1v-4zM88 650v3h1v-3zM90 648v5h1v-5zM96 647v6h1v-6zM97 647v6h1v-6zM98 648v5h1v-5zM99 650v3h1v-3zM102 648v5h1v-5zM104 650v3h1v-3zM109 649v4h1v-4zM111 649v4h1v-4zM114 649v4h1v-4zM116 643v10h1v-10zM117 648v5h1v-5zM120 650v3h1v-3zM127 650v3h1v-3zM128 650v3h1v-3zM129 638v15h1v-15zM130 648v5h1v-5zM131 648v5h1v-5zM134 647v6h1v-6zM135 650v3h1v-3zM136 650v3h1v-3zM142 650v3h1v-3zM143 647v6h1v-6zM144 644v9h1v-9zM145 649v4h1v-4zM147 649v4h1v-4zM150 646v7h1v-7zM151 650v3h1v-3zM153 647v6h1v-6zM154 648v5h1v-5zM159 650v3h1v-3zM160 649v4h1v-4zM162 650v3h1v-3zM166 649v4h1v-4zM167 650v3h1v-3zM168 648v5h1v-5zM173 649v4h1v-4zM176 646v7h1v-7zM178 649v4h1v-4zM181 648v5h1v-5zM185 649v4h1v-4zM187 649v4h1v-4zM189 647v6h1v-6zM191 649v4h1v-4zM192 648v5h1v-5zM193 649v4h1v-4zM195 643v10h1v-10zM196 644v9h1v-9zM197 644v9h1v-9zM199 648v5h1v-5zM200 648v5h1v-5zM203 648v5h1v-5zM205 647v6h1v-6zM207 648v5h1v-5zM210 649v4h1v-4zM211 650v3h1v-3zM212 644v9h1v-9zM215 650v3h1v-3zM216 649v4h1v-4zM221 648v5h1v-5zM225 650v3h1v-3zM226 648v5h1v-5zM229 650v3h1v-3zM233 643v10h1v-10zM234 648v5h1v-5zM235 642v11h1v-11zM237 650v3h1v-3zM239 650v3h1v-3zM244 646v7h1v-7zM248 649v4h1v-4zM249 638v15h1v-15zM250 650v3h1v-3zM253 649v4h1v-4zM256 650v3h1v-3zM257 638v15h1v-15zM261 647v6h1v-6zM264 650v3h1v-3zM268 650v3h1v-3zM269 650v3h1v-3zM270 645v8h1v-8zM272 649v4h1v-4zM274 650v3h1v-3zM276 647v6h1v-6zM277 650v3h1v-3zM280 646v7h1v-7zM283 649v4h1v-4zM284 644v9h1v-9zM287 645v8h1v-8zM288 643v10h1v-10zM289 648v5h1v-5zM291 648v5h1v-5zM292 642v11h1v-11zM293 647v6h1v-6zM295 648v5h1v-5zM296 649v4h1v-4zM299 647v6h1v-6zM301 647v6h1v-6zM304 646v7h1v-7zM307 648v5h1v-5zM310 635v18h1v-18zM311 648v5h1v-5zM313 633v20h1v-20zM314 646v7h1v-7zM320 633v20h1v-20zM322 637v16h1v-16zM324 595v58h1v-58zM325 636v17h1v-17zM326 579v74h1v-74zM327 627v26h1v-26zM328 639v14h1v-14zM329 634v19h1v-19zM331 632v21h1v-21zM332 613v40h1v-40zM339 620v33h1v-33zM340 630v23h1v-23zM341 640v13h1v-13zM345 641v12h1v-12zM347 639v14h1v-14zM350 619v34h1v-34zM354 639v14h1v-14zM356 620v33h1v-33zM358 640v13h1v-13zM363 636v17h1v-17zM365 644v9h1v-9zM367 626v27h1v-27zM370 641v12h1v-12zM374 644v9h1v-9zM375 616v37h1v-37zM376 643v10h1v-10zM379 641v12h1v-12zM380 640v13h1v-13zM383 634v19h1v-19zM385 638v15h1v-15zM387 632v21h1v-21zM389 642v11h1v-11zM394 636v17h1v-17zM398 625v28h1v-28zM402 644v9h1v-9zM409 643v10h1v-10zM416 644v9h1v-9zM418 631v22h1v-22zM419 638v15h1v-15zM420 634v19h1v-19zM421 641v12h1v-12zM425 642v11h1v-11zM427 644v9h1v-9zM428 645v8h1v-8zM430 634v19h1v-19zM432 635v18h1v-18zM433 648v5h1v-5zM435 648v5h1v-5zM439 641v12h1v-12zM442 641v12h1v-12zM446 641v12h1v-12zM447 640v13h1v-13zM450 648v5h1v-5zM452 647v6h1v-6zM455 641v12h1v-12zM456 647v6h1v-6zM457 647v6h1v-6zM464 617v36h1v-36zM467 640v13h1v-13zM468 634v19h1v-19zM474 608v45h1v-45zM477 622v31h1v-31zM479 635v18h1v-18zM480 631v22h1v-22zM484 644v9h1v-9zM485 638v15h1v-15zM486 647v6h1v-6zM487 646v7h1v-7zM490 644v9h1v-9zM494 645v8h1v-8zM495 647v6h1v-6zM497 647v6h1v-6zM498 641v12h1v-12zM500 644v9h1v-9zM502 646v7h1v-7zM507 645v8h1v-8zM508 641v12h1v-12zM509 625v28h1v-28zM517 644v9h1v-9zM518 638v15h1v-15zM519 644v9h1v-9zM523 647v6h1v-6zM527 638v15h1v-15zM534 625v28h1v-28zM536 644v9h1v-9zM537 646v7h1v-7zM538 643v10h1v-10zM546 647v6h1v-6zM552 647v6h1v-6zM555 645v8h1v-8zM560 649v4h1v-4zM561 649v4h1v-4zM563 648v5h1v-5zM565 642v11h1v-11zM566 649v4h1v-4zM567 649v4h1v-4zM570 650v3h1v-3zM573 648v5h1v-5zM578 649v4h1v-4zM582 643v10h1v-10zM583 649v4h1v-4zM585 648v5h1v-5zM586 644v9h1v-9zM593 650v3h1v-3zM596 650v3h1v-3zM597 644v9h1v-9zM598 649v4h1v-4zM599 649v4h1v-4zM600 648v5h1v-5zM604 650v3h1v-3zM609 645v8h1v-8zM613 649v4h1v-4zM614 649v4h1v-4zM616 650v3h1v-3zM618 651v2h1v-2zM619 649v4h1v-4zM622 647v6h1v-6zM623 651v2h1v-2zM624 651v2h1v-2zM625 646v7h1v-7zM628 651v2h1v-2zM629 650v3h1v-3zM631 649v4h1v-4zM632 641v12h1v-12zM634 649v4h1v-4zM639 650v3h1v-3zM640 651v2h1v-2zM643 648v5h1v-5zM644 650v3h1v-3zM645 650v3h1v-3zM650 650v3h1v-3zM653 649v4h1v-4zM654 645v8h1v-8zM657 649v4h1v-4zM658 649v4h1v-4zM660 649v4h1v-4zM661 648v5h1v-5zM663 649v4h1v-4zM665 650v3h1v-3zM666 645v8h1v-8zM667 647v6h1v-6zM668 645v8h1v-8zM674 650v3h1v-3zM675 646v7h1v-7zM681 650v3h1v-3zM682 648v5h1v-5zM683 647v6h1v-6zM688 648v5h1v-5zM689 642v11h1v-11zM692 646v7h1v-7zM694 646v7h1v-7zM695 645v8h1v-8zM705 649v4h1v-4zM708 648v5h1v-5zM711 649v4h1v-4zM714 648v5h1v-5zM716 649v4h1v-4zM721 644v9h1v-9zM723 647v6h1v-6zM725 651v2h1v-2zM727 650v3h1v-3zM730 647v6h1v-6zM733 650v3h1v-3zM735 646v7h1v-7zM737 651v2h1v-2zM738 651v2h1v-2zM740 647v6h1v-6zM746 651v2h1v-2zM747 650v3h1v-3zM751 649v4h1v-4zM753 649v4h1v-4zM754 645v8h1v-8zM756 649v4h1v-4zM757 648v5h1v-5zM761 648v5h1v-5zM762 642v11h1v-11zM764 650v3h1v-3zM765 649v4h1v-4zM766 650v3h1v-3zM769 649v4h1v-4zM771 648v5h1v-5zM776 648v5h1v-5zM777 649v4h1v-4zM778 643v10h1v-10zM783 649v4h1v-4zM784 650v3h1v-3zM785 649v4h1v-4zM796 643v10h1v-10zM802 649v4h1v-4zM805 649v4h1v-4zM809 650v3h1v-3zM811 650v3h1v-3zM812 650v3h1v-3zM816 651v2h1v-2zM817 650v3h1v-3zM819 649v4h1v-4zM825 647v6h1v-6zM828 646v7h1v-7zM829 650v3h1v-3zM832 651v2h1v-2zM833 645v8h1v-8zM844 648v5h1v-5zM847 650v3h1v-3zM852 651v2h1v-2zM853 651v2h1v-2zM856 647v6h1v-6zM858 645v8h1v-8zM862 644v9h1v-9zM864 649v4h1v-4zM865 650v3h1v-3zM866 650v3h1v-3zM868 648v5h1v-5zM869 649v4h1v-4zM870 651v2h1v-2zM872 650v3h1v-3zM877 651v2h1v-2zM880 651v2h1v-2zM882 648v5h1v-5zM884 645v8h1v-8zM886 649v4h1v-4zM887 650v3h1v-3zM891 651v2h1v-2zM893 650v3h1v-3zM895 646v7h1v-7zM896 651v2h1v-2zM898 646v7h1v-7zM899 648v5h1v-5zM901 649v4h1v-4zM902 646v7h1v-7zM903 648v5h1v-5zM904 650v3h1v-3zM911 649v4h1v-4zM912 651v2h1v-2zM915 649v4h1v-4zM916 647v6h1v-6zM918 649v4h1v-4zM921 651v2h1v-2zM922 650v3h1v-3zM924 650v3h1v-3zM925 647v6h1v-6zM928 651v2h1v-2zM931 649v4h1v-4zM938 650v3h1v-3zM941 646v7h1v-7zM942 651v2h1v-2zM946 645v8h1v-8zM947 649v4h1v-4zM948 649v4h1v-4zM951 651v2h1v-2zM955 648v5h1v-5zM957 650v3h1v-3zM959 647v6h1v-6zM960 650v3h1v-3zM961 650v3h1v-3zM963 648v5h1v-5zM965 647v6h1v-6zM966 650v3h1v-3zM967 645v8h1v-8zM972 651v2h1v-2zM979 645v8h1v-8zM980 651v2h1v-2zM982 642v11h1v-11zM983 648v5h1v-5zM988 648v5h1v-5zM996 647v6h1v-6zM997 647v6h1v-6zM999 645v8h1v-8zM1000 646v7h1v-7zM1001 638v15h1v-15zM1002 647v6h1v-6zM1004 648v5h1v-5zM1005 648v5h1v-5zM1006 650v3h1v-3zM1007 650v3h1v-3zM1010 649v4h1v-4zM1012 642v11h1v-11zM1013 648v5h1v-5zM1017 637v16h1v-16zM1018 647v6h1v-6zM1019 650v3h1v-3zM1028 646v7h1v-7zM1033 641v12h1v-12zM1038 649v4h1v-4zM1041 648v5h1v-5zM1042 646v7h1v-7zM1044 639v14h1v-14zM1047 643v10h1v-10zM1048 645v8h1v-8zM1051 650v3h1v-3zM1053 649v4h1v-4zM1055 648v5h1v-5zM1058 650v3h1v-3zM1059 646v7h1v-7zM1061 647v6h1v-6zM1065 638v15h1v-15zM1066 648v5h1v-5zM1068 643v10h1v-10zM1069 632v21h1v-21zM1071 645v8h1v-8zM1075 635v18h1v-18zM1076 644v9h1v-9zM1077 645v8h1v-8zM1078 646v7h1v-7zM1079 646v7h1v-7zM1080 643v10h1v-10zM1081 648v5h1v-5zM1083 640v13h1v-13zM1088 641v12h1v-12zM1093 644v9h1v-9zM1094 646v7h1v-7zM1095 635v18h1v-18zM1102 644v9h1v-9zM1108 641v12h1v-12zM1119 648v5h1v-5zM1122 647v6h1v-6zM1125 639v14h1v-14zM1128 645v8h1v-8zM1129 647v6h1v-6zM1130 639v14h1v-14zM1132 647v6h1v-6zM1136 644v9h1v-9zM1139 632v21h1v-21zM1140 641v12h1v-12zM1141 637v16h1v-16zM1142 646v7h1v-7zM1152 647v6h1v-6zM1153 641v12h1v-12zM1154 648v5h1v-5zM1155 647v6h1v-6zM1156 645v8h1v-8zM1161 645v8h1v-8zM1163 643v10h1v-10zM1164 648v5h1v-5zM1165 649v4h1v-4zM1166 638v15h1v-15zM1170 646v7h1v-7zM1171 648v5h1v-5zM1172 637v16h1v-16zM1176 650v3h1v-3zM1178 644v9h1v-9zM1180 646v7h1v-7zM1181 649v4h1v-4zM1182 649v4h1v-4zM1184 648v5h1v-5zM1190 649v4h1v-4zM1191 648v5h1v-5zM1192 639v14h1v-14zM1194 649v4h1v-4zM1196 645v8h1v-8zM1198 649v4h1v-4zM1201 649v4h1v-4zM1202 650v3h1v-3zM1205 650v3h1v-3zM1209 647v6h1v-6zM1211 650v3h1v-3zM1213 649v4h1v-4zM1215 648v5h1v-5zM1218 649v4h1v-4zM1219 647v6h1v-6zM1225 647v6h1v-6zM1230 647v6h1v-6zM1231 647v6h1v-6zM1232 645v8h1v-8zM1233 636v17h1v-17zM1234 640v13h1v-13zM1241 646v7h1v-7zM1248 646v7h1v-7zM1250 647v6h1v-6zM1251 647v6h1v-6zM1258 647v6h1v-6zM1259 648v5h1v-5zM1261 630v23h1v-23zM1265 646v7h1v-7zM1269 643v10h1v-10zM1271 648v5h1v-5zM1275 644v9h1v-9zM1278 643v10h1v-10zM1279 640v13h1v-13zM1281 645v8h1v-8zM1283 644v9h1v-9zM1286 648v5h1v-5zM1291 640v13h1v-13zM1292 646v7h1v-7zM1296 644v9h1v-9zM1299 646v7h1v-7zM1300 643v10h1v-10zM1306 649v4h1v-4zM1309 645v8h1v-8zM1312 649v4h1v-4zM1314 650v3h1v-3zM1315 650v3h1v-3zM1321 646v7h1v-7zM1322 649v4h1v-4zM1328 648v5h1v-5zM1332 647v6h1v-6zM1333 650v3h1v-3zM1334 649v4h1v-4zM1349 648v5h1v-5zM1354 648v5h1v-5zM1358 639v14h1v-14zM1364 648v5h1v-5zM1367 641v12h1v-12zM1370 644v9h1v-9zM1371 647v6h1v-6zM1372 649v4h1v-4zM1374 646v7h1v-7zM1376 647v6h1v-6zM1378 646v7h1v-7zM1383 648v5h1v-5zM1385 649v4h1v-4zM1389 643v10h1v-10zM1390 650v3h1v-3zM1391 649v4h1v-4zM1392 650v3h1v-3zM1393 646v7h1v-7zM1394 649v4h1v-4zM1397 648v5h1v-5zM1398 648v5h1v-5zM1400 651v2h1v-2zM1402 647v6h1v-6zM1406 648v5h1v-5zM1407 651v2h1v-2zM1409 651v2h1v-2zM1410 651v2h1v-2zM1417 651v2h1v-2zM1424 650v3h1v-3zM1434 651v2h1v-2zM1437 651v2h1v-2zM1438 651v2h1v-2zM1441 650v3h1v-3zM1444 649v4h1v-4zM1448 649v4h1v-4zM1449 651v2h1v-2zM1455 651v2h1v-2zM1457 650v3h1v-3zM1458 650v3h1v-3zM1459 650v3h1v-3zM1460 651v2h1v-2zM1461 651v2h1v-2zM1463 648v5h1v-5zM1464 651v2h1v-2zM1474 650v3h1v-3zM1476 648v5h1v-5zM1478 650v3h1v-3zM1481 650v3h1v-3zM1482 647v6h1v-6zM1483 649v4h1v-4zM1484 647v6h1v-6zM1486 650v3h1v-3zM1489 650v3h1v-3zM1491 647v6h1v-6zM1493 648v5h1v-5zM1494 645v8h1v-8zM1500 650v3h1v-3zM1504 650v3h1v-3zM1507 650v3h1v-3zM1508 651v2h1v-2zM1510 649v4h1v-4zM1511 650v3h1v-3zM1512 648v5h1v-5zM1517 651v2h1v-2zM1518 651v2h1v-2zM1520 648v5h1v-5zM1522 651v2h1v-2zM1524 648v5h1v-5zM1526 650v3h1v-3zM1528 650v3h1v-3zM1530 650v3h1v-3zM1531 650v3h1v-3zM1537 651v2h1v-2zM1538 650v3h1v-3zM1539 648v5h1v-5zM1540 651v2h1v-2zM1541 651v2h1v-2zM1546 650v3h1v-3zM1547 650v3h1v-3zM1548 651v2h1v-2zM1551 651v2h1v-2zM1562 647v6h1v-6zM1564 651v2h1v-2zM1566 648v5h1v-5zM1567 650v3h1v-3zM1574 649v4h1v-4zM1575 651v2h1v-2zM1576 651v2h1v-2zM1577 651v2h1v-2zM1582 650v3h1v-3zM1586 651v2h1v-2z"/>
<path fill="#26a69a" fill-opacity="0.5" d="M21 640v13h1v-13zM22 650v3h1v-3zM24 646v7h1v-7zM25 647v6h1v-6zM26 650v3h1v-3zM32 650v3h1v-3zM33 648v5h1v-5zM36 647v6h1v-6zM38 650v3h1v-3zM43 650v3h1v-3zM48 648v5h1v-5zM50 647v6h1v-6zM51 647v6h1v-6zM53 644v9h1v-9zM55 649v4h1v-4zM58 649v4h1v-4zM64 650v3h1v-3zM66 646v7h1v-7zM73 646v7h1v-7zM74 646v7h1v-7zM75 650v3h1v-3zM76 649v4h1v-4zM80 649v4h1v-4zM85 648v5h1v-5zM87 649v4h1v-4zM89 649v4h1v-4zM94 650v3h1v-3zM103 649v4h1v-4zM105 648v5h1v-5zM108 646v7h1v-7zM110 643v10h1v-10zM112 648v5h1v-5zM113 649v4h1v-4zM119 648v5h1v-5zM121 644v9h1v-9zM132 645v8h1v-8zM133 648v5h1v-5zM138 648v5h1v-5zM139 649v4h1v-4zM141 646v7h1v-7zM148 646v7h1v-7zM149 650v3h1v-3zM152 647v6h1v-6zM158 649v4h1v-4zM161 650v3h1v-3zM163 650v3h1v-3zM164 648v5h1v-5zM165 648v5h1v-5zM169 645v8h1v-8zM170 648v5h1v-5zM177 649v4h1v-4zM179 647v6h1v-6zM180 638v15h1v-15zM182 650v3h1v-3zM186 650v3h1v-3zM190 649v4h1v-4zM194 650v3h1v-3zM198 644v9h1v-9zM201 648v5h1v-5zM202 649v4h1v-4zM204 642v11h1v-11zM209 647v6h1v-6zM214 646v7h1v-7zM217 644v9h1v-9zM218 650v3h1v-3zM223 647v6h1v-6zM224 650v3h1v-3zM227 650v3h1v-3zM231 648v5h1v-5zM238 650v3h1v-3zM240 650v3h1v-3zM243 648v5h1v-5zM245 646v7h1v-7zM246 641v12h1v-12zM247 649v4h1v-4zM254 649v4h1v-4zM258 647v6h1v-6zM259 650v3h1v-3zM262 650v3h1v-3zM265 648v5h1v-5zM266 650v3h1v-3zM267 649v4h1v-4zM271 649v4h1v-4zM273 647v6h1v-6zM275 648v5h1v-5zM279 646v7h1v-7zM281 647v6h1v-6zM282 647v6h1v-6zM285 647v6h1v-6zM290 648v5h1v-5zM298 636v17h1v-17zM300 645v8h1v-8zM302 643v10h1v-10zM305 648v5h1v-5zM306 647v6h1v-6zM308 639v14h1v-14zM309 648v5h1v-5zM312 642v11h1v-11zM318 642v11h1v-11zM319 630v23h1v-23zM321 642v11h1v-11zM323 614v39h1v-39zM330 640v13h1v-13zM343 610v43h1v-43zM346 629v24h1v-24zM349 635v18h1v-18zM351 626v27h1v-27zM352 619v34h1v-34zM357 635v18h1v-18zM359 624v29h1v-29zM360 640v13h1v-13zM361 606v47h1v-47zM366 632v21h1v-21zM368 644v9h1v-9zM369 644v9h1v-9zM371 640v13h1v-13zM373 641v12h1v-12zM378 639v14h1v-14zM382 644v9h1v-9zM384 638v15h1v-15zM386 634v19h1v-19zM395 634v19h1v-19zM396 642v11h1v-11zM397 645v8h1v-8zM399 629v24h1v-24zM400 637v16h1v-16zM401 635v18h1v-18zM403 639v14h1v-14zM404 636v17h1v-17zM405 643v10h1v-10zM407 641v12h1v-12zM408 643v10h1v-10zM412 635v18h1v-18zM417 643v10h1v-10zM422 627v26h1v-26zM424 634v19h1v-19zM429 648v5h1v-5zM434 645v8h1v-8zM437 644v9h1v-9zM438 647v6h1v-6zM440 645v8h1v-8zM443 647v6h1v-6zM448 636v17h1v-17zM449 646v7h1v-7zM451 646v7h1v-7zM453 648v5h1v-5zM454 634v19h1v-19zM458 648v5h1v-5zM459 647v6h1v-6zM461 644v9h1v-9zM462 634v19h1v-19zM463 639v14h1v-14zM465 642v11h1v-11zM466 643v10h1v-10zM469 634v19h1v-19zM470 627v26h1v-26zM472 638v15h1v-15zM476 642v11h1v-11zM478 607v46h1v-46zM482 644v9h1v-9zM483 643v10h1v-10zM488 647v6h1v-6zM489 644v9h1v-9zM491 646v7h1v-7zM499 647v6h1v-6zM504 638v15h1v-15zM505 645v8h1v-8zM506 644v9h1v-9zM510 639v14h1v-14zM511 622v31h1v-31zM514 643v10h1v-10zM515 623v30h1v-30zM521 645v8h1v-8zM522 645v8h1v-8zM524 644v9h1v-9zM526 636v17h1v-17zM528 646v7h1v-7zM530 647v6h1v-6zM531 646v7h1v-7zM532 641v12h1v-12zM535 641v12h1v-12zM539 644v9h1v-9zM541 646v7h1v-7zM542 641v12h1v-12zM543 642v11h1v-11zM544 644v9h1v-9zM545 639v14h1v-14zM549 647v6h1v-6zM551 649v4h1v-4zM553 650v3h1v-3zM556 649v4h1v-4zM557 649v4h1v-4zM558 647v6h1v-6zM564 637v16h1v-16zM569 650v3h1v-3zM572 650v3h1v-3zM574 649v4h1v-4zM575 649v4h1v-4zM577 649v4h1v-4zM579 650v3h1v-3zM584 647v6h1v-6zM587 650v3h1v-3zM588 650v3h1v-3zM589 649v4h1v-4zM590 647v6h1v-6zM592 649v4h1v-4zM594 648v5h1v-5zM595 649v4h1v-4zM602 644v9h1v-9zM603 639v14h1v-14zM605 650v3h1v-3zM608 649v4h1v-4zM610 651v2h1v-2zM612 650v3h1v-3zM615 649v4h1v-4zM617 651v2h1v-2zM621 650v3h1v-3zM626 650v3h1v-3zM627 650v3h1v-3zM635 648v5h1v-5zM636 644v9h1v-9zM637 650v3h1v-3zM641 651v2h1v-2zM642 641v12h1v-12zM647 648v5h1v-5zM648 650v3h1v-3zM649 645v8h1v-8zM652 646v7h1v-7zM662 648v5h1v-5zM664 643v10h1v-10zM670 647v6h1v-6zM671 643v10h1v-10zM672 649v4h1v-4zM673 641v12h1v-12zM676 648v5h1v-5zM678 647v6h1v-6zM680 650v3h1v-3zM687 650v3h1v-3zM690 646v7h1v-7zM691 649v4h1v-4zM697 649v4h1v-4zM701 649v4h1v-4zM702 648v5h1v-5zM704 650v3h1v-3zM706 648v5h1v-5zM709 643v10h1v-10zM710 651v2h1v-2zM715 646v7h1v-7zM717 648v5h1v-5zM718 650v3h1v-3zM720 649v4h1v-4zM722 651v2h1v-2zM724 651v2h1v-2zM729 649v4h1v-4zM734 651v2h1v-2zM739 650v3h1v-3zM742 648v5h1v-5zM749 650v3h1v-3zM750 651v2h1v-2zM752 649v4h1v-4zM755 647v6h1v-6zM760 651v2h1v-2zM763 650v3h1v-3zM767 649v4h1v-4zM768 650v3h1v-3zM770 649v4h1v-4zM774 644v9h1v-9zM779 651v2h1v-2zM780 641v12h1v-12zM782 651v2h1v-2zM786 650v3h1v-3zM787 648v5h1v-5zM789 648v5h1v-5zM791 649v4h1v-4zM795 651v2h1v-2zM797 650v3h1v-3zM798 651v2h1v-2zM800 649v4h1v-4zM801 650v3h1v-3zM803 651v2h1v-2zM807 649v4h1v-4zM810 649v4h1v-4zM813 648v5h1v-5zM814 650v3h1v-3zM815 650v3h1v-3zM818 649v4h1v-4zM820 647v6h1v-6zM822 651v2h1v-2zM823 650v3h1v-3zM824 650v3h1v-3zM826 647v6h1v-6zM827 651v2h1v-2zM831 649v4h1v-4zM835 651v2h1v-2zM836 649v4h1v-4zM837 649v4h1v-4zM838 649v4h1v-4zM842 650v3h1v-3zM843 651v2h1v-2zM846 649v4h1v-4zM848 649v4h1v-4zM850 650v3h1v-3zM851 650v3h1v-3zM854 651v2h1v-2zM855 648v5h1v-5zM859 651v2h1v-2zM860 651v2h1v-2zM861 650v3h1v-3zM867 650v3h1v-3zM871 651v2h1v-2zM873 650v3h1v-3zM874 648v5h1v-5zM875 651v2h1v-2zM879 650v3h1v-3zM881 646v7h1v-7zM888 650v3h1v-3zM890 650v3h1v-3zM892 649v4h1v-4zM894 648v5h1v-5zM897 649v4h1v-4zM906 649v4h1v-4zM907 648v5h1v-5zM908 650v3h1v-3zM910 651v2h1v-2zM913 650v3h1v-3zM914 651v2h1v-2zM917 649v4h1v-4zM923 648v5h1v-5zM927 649v4h1v-4zM929 650v3h1v-3zM930 648v5h1v-5zM932 641v12h1v-12zM933 650v3h1v-3zM937 643v10h1v-10zM939 650v3h1v-3zM940 649v4h1v-4zM943 648v5h1v-5zM944 649v4h1v-4zM945 650v3h1v-3zM949 646v7h1v-7zM950 648v5h1v-5zM952 650v3h1v-3zM953 650v3h1v-3zM954 647v6h1v-6zM956 650v3h1v-3zM969 647v6h1v-6zM970 650v3h1v-3zM973 649v4h1v-4zM981 647v6h1v-6zM985 648v5h1v-5zM987 641v12h1v-12zM989 649v4h1v-4zM990 646v7h1v-7zM991 646v7h1v-7zM992 648v5h1v-5zM993 650v3h1v-3zM994 646v7h1v-7zM1003 649v4h1v-4zM1014 642v11h1v-11zM1016 647v6h1v-6zM1020 650v3h1v-3zM1022 649v4h1v-4zM1025 650v3h1v-3zM1027 650v3h1v-3zM1030 648v5h1v-5zM1031 650v3h1v-3zM1034 648v5h1v-5zM1035 649v4h1v-4zM1039 650v3h1v-3zM1040 648v5h1v-5zM1043 649v4h1v-4zM1045 647v6h1v-6zM1049 645v8h1v-8zM1052 647v6h1v-6zM1054 647v6h1v-6zM1056 649v4h1v-4zM1057 643v10h1v-10zM1060 650v3h1v-3zM1063 648v5h1v-5zM1064 641v12h1v-12zM1067 646v7h1v-7zM1070 647v6h1v-6zM1072 647v6h1v-6zM1073 637v16h1v-16zM1074 637v16h1v-16zM1082 636v17h1v-17zM1085 646v7h1v-7zM1086 641v12h1v-12zM1087 644v9h1v-9zM1090 648v5h1v-5zM1091 635v18h1v-18zM1096 641v12h1v-12zM1099 646v7h1v-7zM1100 644v9h1v-9zM1103 646v7h1v-7zM1104 641v12h1v-12zM1105 637v16h1v-16zM1106 644v9h1v-9zM1110 641v12h1v-12zM1111 647v6h1v-6zM1113 647v6h1v-6zM1114 642v11h1v-11zM1115 647v6h1v-6zM1117 642v11h1v-11zM1120 626v27h1v-27zM1124 635v18h1v-18zM1126 624v29h1v-29zM1134 647v6h1v-6zM1135 647v6h1v-6zM1137 647v6h1v-6zM1144 647v6h1v-6zM1145 646v7h1v-7zM1148 641v12h1v-12zM1157 639v14h1v-14zM1158 648v5h1v-5zM1162 649v4h1v-4zM1167 649v4h1v-4zM1168 649v4h1v-4zM1173 650v3h1v-3zM1174 649v4h1v-4zM1175 650v3h1v-3zM1179 636v17h1v-17zM1183 639v14h1v-14zM1185 648v5h1v-5zM1186 647v6h1v-6zM1188 647v6h1v-6zM1189 647v6h1v-6zM1193 649v4h1v-4zM1195 648v5h1v-5zM1197 648v5h1v-5zM1200 649v4h1v-4zM1206 646v7h1v-7zM1217 645v8h1v-8zM1220 645v8h1v-8zM1221 644v9h1v-9zM1222 648v5h1v-5zM1226 647v6h1v-6zM1229 637v16h1v-16zM1235 642v11h1v-11zM1236 647v6h1v-6zM1237 648v5h1v-5zM1238 647v6h1v-6zM1239 646v7h1v-7zM1240 641v12h1v-12zM1242 645v8h1v-8zM1244 646v7h1v-7zM1247 633v20h1v-20zM1249 645v8h1v-8zM1252 634v19h1v-19zM1253 641v12h1v-12zM1254 643v10h1v-10zM1256 638v15h1v-15zM1257 647v6h1v-6zM1260 640v13h1v-13zM1262 647v6h1v-6zM1263 645v8h1v-8zM1264 645v8h1v-8zM1266 645v8h1v-8zM1268 643v10h1v-10zM1270 648v5h1v-5zM1272 646v7h1v-7zM1274 647v6h1v-6zM1277 636v17h1v-17zM1280 640v13h1v-13zM1282 638v15h1v-15zM1284 647v6h1v-6zM1287 641v12h1v-12zM1288 648v5h1v-5zM1289 633v20h1v-20zM1295 648v5h1v-5zM1297 647v6h1v-6zM1298 648v5h1v-5zM1301 642v11h1v-11zM1302 639v14h1v-14zM1303 648v5h1v-5zM1304 647v6h1v-6zM1305 650v3h1v-3zM1307 648v5h1v-5zM1313 648v5h1v-5zM1316 650v3h1v-3zM1318 648v5h1v-5zM1319 647v6h1v-6zM1320 645v8h1v-8zM1324 648v5h1v-5zM1325 643v10h1v-10zM1326 650v3h1v-3zM1329 639v14h1v-14zM1335 649v4h1v-4zM1337 646v7h1v-7zM1339 634v19h1v-19zM1341 643v10h1v-10zM1342 647v6h1v-6zM1343 637v16h1v-16zM1344 649v4h1v-4zM1346 648v5h1v-5zM1347 648v5h1v-5zM1348 642v11h1v-11zM1350 645v8h1v-8zM1352 643v10h1v-10zM1355 645v8h1v-8zM1356 646v7h1v-7zM1360 630v23h1v-23zM1361 645v8h1v-8zM1365 645v8h1v-8zM1368 649v4h1v-4zM1369 646v7h1v-7zM1375 642v11h1v-11zM1377 648v5h1v-5zM1379 645v8h1v-8zM1380 650v3h1v-3zM1382 648v5h1v-5zM1386 650v3h1v-3zM1387 650v3h1v-3zM1388 650v3h1v-3zM1395 646v7h1v-7zM1396 645v8h1v-8zM1401 651v2h1v-2zM1404 647v6h1v-6zM1405 651v2h1v-2zM1408 650v3h1v-3zM1411 651v2h1v-2zM1413 651v2h1v-2zM1414 645v8h1v-8zM1415 650v3h1v-3zM1416 650v3h1v-3zM1419 647v6h1v-6zM1420 651v2h1v-2zM1421 651v2h1v-2zM1422 648v5h1v-5zM1423 645v8h1v-8zM1428 651v2h1v-2zM1429 651v2h1v-2zM1430 651v2h1v-2zM1431 651v2h1v-2zM1432 651v2h1v-2zM1439 651v2h1v-2zM1442 650v3h1v-3zM1443 648v5h1v-5zM1445 650v3h1v-3zM1446 651v2h1v-2zM1451 649v4h1v-4zM1453 651v2h1v-2zM1454 651v2h1v-2zM1456 650v3h1v-3zM1462 651v2h1v-2zM1465 647v6h1v-6zM1466 650v3h1v-3zM1468 644v9h1v-9zM1469 649v4h1v-4zM1473 649v4h1v-4zM1477 650v3h1v-3zM1479 641v12h1v-12zM1480 648v5h1v-5zM1487 650v3h1v-3zM1490 650v3h1v-3zM1492 647v6h1v-6zM1496 644v9h1v-9zM1497 645v8h1v-8zM1498 647v6h1v-6zM1499 640v13h1v-13zM1501 650v3h1v-3zM1502 651v2h1v-2zM1503 651v2h1v-2zM1505 650v3h1v-3zM1506 650v3h1v-3zM1514 650v3h1v-3zM1515 649v4h1v-4zM1519 651v2h1v-2zM1521 651v2h1v-2zM1523 651v2h1v-2zM1525 651v2h1v-2zM1527 648v5h1v-5zM1529 651v2h1v-2zM1532 651v2h1v-2zM1533 651v2h1v-2zM1534 651v2h1v-2zM1535 651v2h1v-2zM1536 648v5h1v-5zM1542 650v3h1v-3zM1543 649v4h1v-4zM1544 651v2h1v-2zM1545 651v2h1v-2zM1550 651v2h1v-2zM1552 650v3h1v-3zM1554 651v2h1v-2zM1555 648v5h1v-5zM1556 648v5h1v-5zM1557 651v2h1v-2zM1558 649v4h1v-4zM1559 651v2h1v-2zM1560 646v7h1v-7zM1561 649v4h1v-4zM1569 651v2h1v-2zM1572 651v2h1v-2zM1573 651v2h1v-2zM1578 650v3h1v-3zM1580 650v3h1v-3zM1581 651v2h1v-2zM1585 651v2h1v-2z"/>
<path fill="#ef5350" fill-opacity="0.5" d="M112 609v44h1v-44zM120 633v20h1v-20zM123 635v18h1v-18zM135 609v44h1v-44zM147 634v19h1v-19zM162 617v36h1v-36zM179 579v74h1v-74zM193 559v94h1v-94zM195 606v47h1v-47zM205 627v26h1v-26zM243 632v21h1v-21zM285 633v20h1v-20zM305 608v45h1v-45zM312 628v25h1v-25zM317 623v30h1v-30zM327 543v110h1v-110zM333 524v129h1v-129zM341 596v57h1v-57zM343 497v156h1v-156zM345 571v82h1v-82zM367 607v46h1v-46zM371 609v44h1v-44zM379 547v106h1v-106zM391 576v77h1v-77zM397 603v50h1v-50zM452 625v28h1v-28zM479 602v51h1v-51zM496 619v34h1v-34zM508 616v37h1v-37zM526 623v30h1v-30zM537 626v27h1v-27zM599 585v68h1v-68zM650 632v21h1v-21zM653 623v30h1v-30zM689 627v26h1v-26zM696 617v36h1v-36zM769 639v14h1v-14zM812 629v24h1v-24zM843 601v52h1v-52zM847 624v29h1v-29zM866 639v14h1v-14zM878 638v15h1v-15zM880 639v14h1v-14zM893 627v26h1v-26zM925 638v15h1v-15zM967 633v20h1v-20zM984 631v22h1v-22zM989 627v26h1v-26zM995 622v31h1v-31zM1006 621v32h1v-32zM1056 639v14h1v-14zM1067 602v51h1v-51zM1081 574v79h1v-79zM1082 617v36h1v-36zM1089 618v35h1v-35zM1110 611v42h1v-42zM1140 605v48h1v-48zM1142 617v36h1v-36zM1155 629v24h1v-24zM1157 624v29h1v-29zM1180 629v24h1v-24zM1191 631v22h1v-22zM1218 633v20h1v-20zM1233 620v33h1v-33zM1235 591v62h1v-62zM1251 588v65h1v-65zM1255 577v76h1v-76zM1280 627v26h1v-26zM1322 634v19h1v-19zM1345 579v74h1v-74zM1356 627v26h1v-26zM1366 629v24h1v-24zM1383 639v14h1v-14zM1395 639v14h1v-14zM1406 624v29h1v-29zM1484 639v14h1v-14zM1491 607v46h1v-46zM1493 622v31h1v-31zM1529 639v14h1v-14zM1532 637v16h1v-16zM1581 629v24h1v-24z"/>
<path fill="#26a69a" fill-opacity="0.5" d="M26 633v20h1v-20zM70 633v20h1v-20zM73 613v40h1v-40zM82 635v18h1v-18zM125 638v15h1v-15zM145 637v16h1v-16zM152 638v15h1v-15zM162 625v28h1v-28zM170 629v24h1v-24zM184 632v21h1v-21zM207 600v53h1v-53zM231 637v16h1v-16zM248 617v36h1v-36zM277 622v31h1v-31zM289 625v28h1v-28zM298 628v25h1v-25zM301 628v25h1v-25zM329 619v34h1v-34zM334 594v59h1v-59zM346 597v56h1v-56zM415 607v46h1v-46zM465 595v58h1v-58zM467 616v37h1v-37zM473 622v31h1v-31zM550 633v20h1v-20zM604 617v36h1v-36zM634 635v18h1v-18zM639 632v21h1v-21zM657 603v50h1v-50zM669 638v15h1v-15zM673 634v19h1v-19zM686 639v14h1v-14zM717 640v13h1v-13zM775 640v13h1v-13zM799 627v26h1v-26zM859 643v10h1v-10zM915 636v17h1v-17zM969 640v13h1v-13zM972 632v21h1v-21zM1010 607v46h1v-46zM1036 617v36h1v-36zM1097 618v35h1v-35zM1100 616v37h1v-37zM1109 585v68h1v-68zM1115 571v82h1v-82zM1116 581v72h1v-72zM1118 621v32h1v-32zM1126 621v32h1v-32zM1131 627v26h1v-26zM1146 625v28h1v-28zM1150 624v29h1v-29zM1202 637v16h1v-16zM1237 621v32h1v-32zM1246 553v100h1v-100zM1247 562v91h1v-91zM1250 561v92h1v-92zM1257 575v78h1v-78zM1267 633v20h1v-20zM1285 617v36h1v-36zM1291 600v53h1v-53zM1292 611v42h1v-42zM1328 622v31h1v-31zM1342 616v37h1v-37zM1346 617v36h1v-36zM1348 617v36h1v-36zM1349 621v32h1v-32zM1363 634v19h1v-19zM1422 642v11h1v-11zM1469 629v24h1v-24zM1471 623v30h1v-30zM1473 605v48h1v-48zM1474 633v20h1v-20zM1545 641v12h1v-12zM1571 635v18h1v-18zM1573 643v10h1v-10z"/></g>
<rect x="1454" y="28" width="2" height="625" fill="#4caf50"/>
<path id="pline" d="M13 349.5H1622" stroke="#089981" stroke-width="1" stroke-dasharray="1 2" fill="none"/>
<path id="cr" fill="#f23645" d="M11 99v15h1v-15zM12 106v8h1v-8zM13 112v13h1v-13zM14 121v9h1v-9zM15 129v10h1v-10zM17 116v1h1v-1zM18 114v9h1v-9zM19 113v11h1v-11zM20 123v6h1v-6zM22 114v3h1v-3zM23 114v19h1v-19zM24 118v4h1v-4zM24 143v1h1v-1zM27 89v12h1v-12zM28 94v3h1v-3zM29 91v5h1v-5zM30 93v6h1v-6zM31 93v27h1v-27zM32 117v2h1v-2zM34 111v6h1v-6zM35 115v11h1v-11zM36 128v5h1v-5zM37 111v22h1v-22zM40 109v13h1v-13zM40 123v4h1v-4zM41 121v1h1v-1zM41 126v6h1v-6zM42 119v3h1v-3zM42 128v4h1v-4zM44 112v6h1v-6zM45 107v5h1v-5zM46 106v11h1v-11zM47 109v17h1v-17zM48 124v4h1v-4zM49 122v7h1v-7zM51 126v6h1v-6zM52 102v12h1v-12zM53 112v6h1v-6zM55 104v3h1v-3zM56 96v4h1v-4zM57 96v8h1v-8zM57 107v1h1v-1zM59 96v9h1v-9zM60 96v8h1v-8zM61 101v12h1v-12zM62 103v2h1v-2zM62 112v11h1v-11zM63 122v7h1v-7zM64 131v1h1v-1zM65 117v8h1v-8zM65 128v4h1v-4zM65 134v6h1v-6zM66 125v22h1v-22zM67 140v5h1v-5zM67 146v6h1v-6zM69 134v22h1v-22zM71 151v2h1v-2zM72 157v4h1v-4zM73 118v10h1v-10zM75 114v1h1v-1zM76 116v18h1v-18zM78 124v8h1v-8zM80 121v5h1v-5zM81 104v6h1v-6zM81 122v4h1v-4zM82 100v4h1v-4zM82 105v3h1v-3zM82 109v6h1v-6zM82 122v3h1v-3zM83 99v8h1v-8zM84 105v2h1v-2zM85 104v7h1v-7zM86 108v2h1v-2zM87 96v4h1v-4zM87 101v12h1v-12zM88 106v8h1v-8zM90 101v6h1v-6zM92 104v8h1v-8zM93 108v3h1v-3zM95 101v7h1v-7zM96 101v7h1v-7zM97 107v9h1v-9zM97 119v5h1v-5zM98 107v17h1v-17zM99 124v6h1v-6zM100 117v6h1v-6zM101 117v15h1v-15zM102 129v16h1v-16zM105 111v10h1v-10zM106 117v2h1v-2zM106 128v1h1v-1zM107 117v8h1v-8zM107 137v3h1v-3zM108 123v19h1v-19zM109 139v11h1v-11zM111 135v20h1v-20zM112 154v4h1v-4zM115 139v5h1v-5zM116 141v9h1v-9zM117 149v7h1v-7zM120 136v30h1v-30zM122 150v10h1v-10zM123 151v3h1v-3zM125 134v6h1v-6zM125 141v6h1v-6zM126 138v10h1v-10zM127 146v7h1v-7zM128 152v10h1v-10zM128 163v4h1v-4zM129 161v4h1v-4zM130 162v23h1v-23zM131 158v3h1v-3zM134 146v12h1v-12zM134 163v7h1v-7zM135 153v17h1v-17zM137 157v11h1v-11zM139 157v11h1v-11zM141 146v9h1v-9zM141 156v2h1v-2zM142 155v4h1v-4zM143 157v21h1v-21zM144 158v3h1v-3zM144 163v5h1v-5zM144 178v5h1v-5zM145 173v14h1v-14zM146 170v12h1v-12zM147 181v11h1v-11zM150 163v1h1v-1zM150 169v4h1v-4zM151 162v6h1v-6zM152 160v8h1v-8zM152 169v6h1v-6zM153 162v3h1v-3zM153 167v8h1v-8zM154 174v10h1v-10zM156 168v6h1v-6zM157 174v1h1v-1zM158 163v6h1v-6zM159 161v9h1v-9zM159 177v7h1v-7zM160 169v19h1v-19zM162 176v1h1v-1zM162 182v16h1v-16zM163 192v6h1v-6zM164 196v6h1v-6zM165 197v4h1v-4zM166 183v9h1v-9zM166 193v9h1v-9zM167 190v13h1v-13zM168 199v6h1v-6zM171 172v7h1v-7zM171 183v5h1v-5zM172 173v12h1v-12zM173 184v9h1v-9zM174 184v4h1v-4zM175 183v6h1v-6zM176 187v12h1v-12zM176 200v5h1v-5zM177 198v10h1v-10zM178 208v17h1v-17zM178 228v20h1v-20zM179 220v6h1v-6zM179 237v4h1v-4zM180 226v11h1v-11zM181 236v7h1v-7zM182 229v5h1v-5zM183 231v7h1v-7zM185 241v7h1v-7zM186 216v3h1v-3zM187 222v6h1v-6zM188 215v10h1v-10zM189 210v4h1v-4zM190 208v3h1v-3zM190 215v5h1v-5zM191 206v5h1v-5zM192 205v13h1v-13zM193 208v33h1v-33zM194 223v5h1v-5zM195 228v8h1v-8zM196 235v12h1v-12zM199 234v12h1v-12zM200 242v6h1v-6zM201 234v6h1v-6zM201 248v1h1v-1zM202 232v6h1v-6zM202 245v3h1v-3zM203 234v5h1v-5zM204 233v6h1v-6zM205 236v27h1v-27zM207 252v5h1v-5zM208 242v5h1v-5zM209 238v4h1v-4zM210 236v8h1v-8zM211 241v8h1v-8zM212 245v8h1v-8zM213 252v10h1v-10zM215 244v6h1v-6zM216 249v12h1v-12zM217 260v2h1v-2zM219 241v5h1v-5zM220 243v2h1v-2zM221 234v7h1v-7zM224 229v5h1v-5zM225 217v6h1v-6zM225 228v7h1v-7zM227 212v3h1v-3zM228 210v5h1v-5zM229 210v6h1v-6zM232 204v6h1v-6zM233 206v7h1v-7zM234 207v10h1v-10zM235 209v15h1v-15zM236 222v10h1v-10zM237 228v9h1v-9zM239 228v8h1v-8zM240 228v9h1v-9zM241 234v6h1v-6zM241 241v3h1v-3zM242 238v8h1v-8zM243 249v1h1v-1zM244 228v16h1v-16zM245 228v2h1v-2zM245 238v5h1v-5zM248 200v11h1v-11zM248 220v5h1v-5zM249 206v2h1v-2zM250 207v6h1v-6zM251 211v8h1v-8zM252 212v13h1v-13zM253 223v8h1v-8zM254 225v7h1v-7zM255 232v8h1v-8zM256 235v11h1v-11zM257 239v6h1v-6zM257 252v2h1v-2zM258 254v2h1v-2zM259 232v5h1v-5zM260 229v12h1v-12zM261 240v2h1v-2zM263 225v12h1v-12zM264 224v2h1v-2zM264 228v2h1v-2zM264 235v12h1v-12zM265 231v1h1v-1zM267 221v6h1v-6zM268 225v9h1v-9zM269 225v14h1v-14zM270 219v4h1v-4zM270 232v4h1v-4zM270 238v6h1v-6zM271 238v6h1v-6zM272 228v5h1v-5zM273 213v5h1v-5zM274 214v1h1v-1zM274 217v2h1v-2zM275 205v5h1v-5zM276 206v9h1v-9zM277 188v27h1v-27zM279 209v6h1v-6zM280 190v21h1v-21zM283 183v14h1v-14zM284 192v29h1v-29zM286 218v4h1v-4zM287 207v11h1v-11zM287 228v5h1v-5zM288 212v11h1v-11zM289 215v4h1v-4zM289 228v13h1v-13zM290 206v4h1v-4zM292 205v15h1v-15zM293 218v7h1v-7zM294 221v6h1v-6zM295 222v8h1v-8zM295 231v3h1v-3zM296 229v4h1v-4zM296 236v5h1v-5zM297 195v4h1v-4zM297 227v19h1v-19zM298 194v5h1v-5zM299 201v1h1v-1zM301 168v13h1v-13zM302 185v1h1v-1zM303 175v4h1v-4zM304 176v31h1v-31zM304 214v6h1v-6zM305 201v21h1v-21zM306 196v11h1v-11zM307 205v11h1v-11zM310 198v7h1v-7zM311 199v11h1v-11zM313 190v24h1v-24zM314 226v1h1v-1zM315 211v5h1v-5zM315 232v7h1v-7zM316 213v5h1v-5zM316 225v15h1v-15zM317 217v14h1v-14zM318 217v6h1v-6zM318 228v6h1v-6zM320 224v9h1v-9zM322 207v2h1v-2zM322 213v14h1v-14zM324 211v14h1v-14zM324 226v4h1v-4zM325 223v16h1v-16zM326 236v20h1v-20zM327 241v4h1v-4zM327 255v41h1v-41zM328 297v15h1v-15zM329 292v25h1v-25zM331 271v20h1v-20zM331 296v18h1v-18zM332 278v7h1v-7zM332 288v25h1v-25zM333 305v27h1v-27zM333 343v26h1v-26zM334 332v14h1v-14zM334 355v5h1v-5zM336 337v18h1v-18zM337 344v30h1v-30zM337 379v2h1v-2zM338 362v1h1v-1zM339 363v22h1v-22zM340 381v8h1v-8zM341 385v27h1v-27zM341 413v3h1v-3zM342 396v21h1v-21zM342 418v6h1v-6zM344 400v28h1v-28zM345 420v6h1v-6zM345 428v52h1v-52zM346 434v7h1v-7zM347 430v46h1v-46zM347 478v6h1v-6zM348 455v6h1v-6zM350 413v9h1v-9zM350 426v8h1v-8zM351 403v30h1v-30zM352 409v5h1v-5zM352 420v6h1v-6zM352 428v5h1v-5zM354 415v20h1v-20zM356 427v7h1v-7zM356 441v4h1v-4zM358 419v19h1v-19zM359 437v7h1v-7zM362 428v6h1v-6zM363 419v19h1v-19zM365 423v22h1v-22zM366 416v8h1v-8zM367 418v34h1v-34zM367 453v2h1v-2zM368 451v6h1v-6zM370 430v44h1v-44zM371 461v5h1v-5zM372 438v33h1v-33zM374 431v28h1v-28zM376 445v20h1v-20zM379 458v48h1v-48zM380 459v6h1v-6zM380 506v13h1v-13zM381 488v3h1v-3zM381 496v7h1v-7zM381 512v4h1v-4zM383 453v12h1v-12zM384 437v8h1v-8zM385 444v24h1v-24zM386 469v5h1v-5zM387 452v21h1v-21zM388 473v2h1v-2zM388 482v8h1v-8zM389 487v13h1v-13zM389 506v6h1v-6zM390 488v17h1v-17zM390 542v5h1v-5zM391 505v76h1v-76zM393 540v11h1v-11zM394 551v9h1v-9zM395 547v23h1v-23zM396 569v14h1v-14zM397 551v4h1v-4zM398 554v13h1v-13zM398 573v16h1v-16zM400 555v4h1v-4zM400 584v4h1v-4zM402 531v26h1v-26zM403 530v41h1v-41zM406 546v5h1v-5zM407 535v15h1v-15zM408 538v5h1v-5zM409 518v6h1v-6zM410 512v25h1v-25zM414 476v5h1v-5zM414 509v6h1v-6zM415 511v3h1v-3zM416 475v19h1v-19zM417 476v5h1v-5zM417 503v1h1v-1zM418 481v5h1v-5zM418 490v31h1v-31zM420 501v18h1v-18zM421 512v32h1v-32zM423 532v13h1v-13zM425 537v7h1v-7zM427 526v3h1v-3zM428 529v19h1v-19zM429 529v18h1v-18zM430 546v8h1v-8zM432 534v14h1v-14zM433 521v8h1v-8zM435 515v24h1v-24zM436 508v25h1v-25zM438 511v14h1v-14zM439 514v6h1v-6zM439 523v7h1v-7zM441 525v4h1v-4zM442 522v9h1v-9zM444 523v13h1v-13zM444 538v4h1v-4zM445 535v13h1v-13zM446 548v12h1v-12zM447 557v5h1v-5zM449 522v6h1v-6zM450 519v15h1v-15zM452 520v15h1v-15zM453 523v17h1v-17zM455 530v5h1v-5zM457 506v9h1v-9zM458 509v7h1v-7zM459 494v6h1v-6zM461 473v7h1v-7zM466 407v5h1v-5zM467 375v28h1v-28zM468 384v10h1v-10zM468 413v4h1v-4zM469 393v17h1v-17zM470 410v9h1v-9zM472 371v6h1v-6zM472 414v5h1v-5zM473 320v5h1v-5zM473 378v1h1v-1zM475 317v10h1v-10zM476 319v5h1v-5zM477 273v6h1v-6zM477 298v16h1v-16zM479 268v28h1v-28zM479 301v18h1v-18zM480 303v5h1v-5zM480 310v6h1v-6zM481 298v27h1v-27zM482 287v43h1v-43zM484 305v2h1v-2zM485 278v16h1v-16zM487 276v34h1v-34zM491 265v6h1v-6zM492 259v21h1v-21zM493 263v4h1v-4zM493 280v2h1v-2zM494 268v3h1v-3zM495 263v6h1v-6zM496 269v22h1v-22zM497 291v23h1v-23zM498 303v17h1v-17zM499 323v1h1v-1zM500 296v14h1v-14zM502 298v2h1v-2zM503 300v17h1v-17zM504 317v10h1v-10zM505 326v13h1v-13zM506 324v16h1v-16zM508 329v40h1v-40zM509 370v15h1v-15zM510 377v4h1v-4zM511 331v18h1v-18zM513 324v18h1v-18zM514 317v20h1v-20zM515 328v6h1v-6zM516 321v17h1v-17zM516 353v4h1v-4zM517 321v5h1v-5zM517 337v6h1v-6zM518 342v11h1v-11zM518 354v6h1v-6zM519 353v5h1v-5zM519 360v14h1v-14zM520 369v3h1v-3zM521 368v5h1v-5zM522 347v16h1v-16zM523 353v8h1v-8zM524 353v5h1v-5zM525 360v16h1v-16zM527 370v20h1v-20zM528 370v32h1v-32zM529 392v5h1v-5zM531 395v3h1v-3zM533 364v22h1v-22zM534 368v22h1v-22zM536 374v6h1v-6zM537 369v7h1v-7zM538 376v36h1v-36zM541 403v3h1v-3zM542 369v15h1v-15zM543 403v5h1v-5zM544 372v4h1v-4zM544 381v8h1v-8zM545 389v15h1v-15zM546 389v16h1v-16zM547 381v5h1v-5zM550 329v18h1v-18zM552 331v15h1v-15zM553 328v28h1v-28zM555 340v16h1v-16zM556 335v7h1v-7zM557 331v12h1v-12zM559 331v25h1v-25zM560 354v3h1v-3zM561 356v18h1v-18zM563 347v2h1v-2zM563 355v8h1v-8zM565 346v5h1v-5zM566 343v13h1v-13zM567 351v5h1v-5zM568 353v22h1v-22zM570 356v11h1v-11zM570 378v5h1v-5zM571 366v6h1v-6zM573 354v14h1v-14zM574 353v9h1v-9zM576 350v16h1v-16zM577 350v4h1v-4zM578 356v5h1v-5zM580 346v20h1v-20zM582 349v2h1v-2zM582 355v1h1v-1zM583 355v16h1v-16zM585 366v8h1v-8zM585 389v5h1v-5zM586 374v22h1v-22zM588 386v15h1v-15zM589 384v12h1v-12zM591 383v7h1v-7zM593 382v5h1v-5zM595 381v3h1v-3zM596 384v11h1v-11zM597 393v12h1v-12zM598 400v3h1v-3zM598 405v11h1v-11zM599 406v43h1v-43zM599 452v3h1v-3zM600 448v4h1v-4zM602 425v5h1v-5zM604 407v8h1v-8zM605 405v10h1v-10zM607 398v12h1v-12zM609 397v6h1v-6zM610 398v4h1v-4zM611 393v2h1v-2zM612 389v3h1v-3zM613 389v6h1v-6zM614 392v11h1v-11zM617 379v5h1v-5zM618 371v3h1v-3zM620 362v10h1v-10zM621 365v6h1v-6zM622 362v5h1v-5zM624 361v7h1v-7zM625 352v6h1v-6zM626 352v7h1v-7zM628 353v13h1v-13zM629 365v12h1v-12zM630 368v5h1v-5zM631 364v6h1v-6zM632 367v18h1v-18zM633 379v9h1v-9zM634 377v13h1v-13zM636 384v4h1v-4zM637 366v11h1v-11zM639 345v10h1v-10zM639 362v4h1v-4zM640 353v12h1v-12zM642 355v8h1v-8zM644 353v2h1v-2zM645 355v8h1v-8zM646 349v4h1v-4zM646 355v5h1v-5zM647 347v16h1v-16zM648 348v1h1v-1zM649 349v1h1v-1zM649 354v8h1v-8zM650 353v36h1v-36zM651 359v6h1v-6zM651 381v15h1v-15zM653 385v24h1v-24zM654 394v6h1v-6zM655 353v6h1v-6zM657 311v20h1v-20zM658 319v10h1v-10zM659 321v14h1v-14zM660 329v10h1v-10zM661 338v23h1v-23zM663 341v5h1v-5zM663 360v7h1v-7zM665 337v7h1v-7zM667 331v6h1v-6zM669 324v6h1v-6zM672 310v6h1v-6zM673 286v6h1v-6zM673 295v3h1v-3zM674 291v3h1v-3zM675 295v19h1v-19zM676 303v7h1v-7zM678 309v12h1v-12zM679 290v20h1v-20zM681 294v6h1v-6zM682 297v10h1v-10zM683 306v19h1v-19zM684 323v18h1v-18zM685 339v7h1v-7zM686 333v12h1v-12zM688 325v7h1v-7zM689 327v4h1v-4zM690 315v4h1v-4zM691 314v6h1v-6zM692 314v17h1v-17zM694 326v15h1v-15zM695 326v7h1v-7zM695 335v7h1v-7zM695 350v5h1v-5zM698 337v9h1v-9zM698 347v4h1v-4zM699 340v4h1v-4zM699 345v7h1v-7zM699 353v3h1v-3zM701 349v8h1v-8zM702 355v2h1v-2zM703 346v13h1v-13zM705 344v3h1v-3zM705 350v6h1v-6zM707 349v6h1v-6zM708 341v4h1v-4zM709 334v5h1v-5zM709 343v2h1v-2zM710 330v15h1v-15zM711 331v4h1v-4zM711 370v3h1v-3zM712 341v33h1v-33zM713 349v5h1v-5zM714 356v12h1v-12zM716 351v4h1v-4zM719 316v12h1v-12zM721 314v20h1v-20zM723 320v6h1v-6zM725 325v11h1v-11zM726 328v10h1v-10zM727 337v12h1v-12zM730 340v3h1v-3zM730 345v5h1v-5zM731 335v1h1v-1zM731 340v5h1v-5zM733 333v17h1v-17zM735 337v9h1v-9zM736 344v6h1v-6zM736 355v6h1v-6zM737 350v20h1v-20zM738 364v10h1v-10zM740 366v10h1v-10zM741 355v17h1v-17zM742 362v5h1v-5zM743 359v6h1v-6zM745 354v6h1v-6zM746 355v10h1v-10zM749 335v10h1v-10zM750 346v4h1v-4zM751 341v11h1v-11zM753 335v10h1v-10zM754 328v6h1v-6zM757 316v7h1v-7zM758 304v7h1v-7zM759 304v18h1v-18zM761 308v10h1v-10zM762 309v13h1v-13zM764 310v15h1v-15zM766 315v1h1v-1zM766 318v8h1v-8zM767 317v8h1v-8zM769 318v1h1v-1zM769 325v1h1v-1zM771 318v9h1v-9zM772 320v3h1v-3zM773 318v11h1v-11zM776 302v6h1v-6zM777 304v2h1v-2zM778 299v1h1v-1zM778 305v1h1v-1zM779 297v7h1v-7zM781 299v10h1v-10zM782 294v12h1v-12zM783 300v5h1v-5zM784 297v15h1v-15zM785 306v15h1v-15zM786 315v6h1v-6zM787 313v6h1v-6zM788 310v2h1v-2zM793 295v6h1v-6zM794 292v3h1v-3zM798 274v5h1v-5zM799 248v24h1v-24zM800 272v10h1v-10zM800 286v5h1v-5zM801 275v6h1v-6zM802 281v10h1v-10zM804 284v9h1v-9zM806 284v11h1v-11zM808 283v8h1v-8zM809 285v14h1v-14zM810 285v2h1v-2zM811 278v10h1v-10zM812 287v11h1v-11zM814 287v9h1v-9zM815 285v6h1v-6zM817 282v12h1v-12zM819 284v12h1v-12zM822 274v8h1v-8zM823 261v4h1v-4zM825 261v19h1v-19zM827 273v1h1v-1zM828 273v6h1v-6zM830 270v6h1v-6zM831 266v11h1v-11zM832 276v7h1v-7zM835 272v8h1v-8zM836 279v2h1v-2zM837 282v5h1v-5zM838 282v1h1v-1zM839 281v6h1v-6zM841 280v15h1v-15zM843 290v9h1v-9zM845 271v13h1v-13zM847 278v6h1v-6zM848 283v1h1v-1zM849 286v9h1v-9zM851 285v9h1v-9zM852 291v5h1v-5zM853 293v6h1v-6zM854 297v14h1v-14zM855 302v4h1v-4zM856 296v3h1v-3zM856 307v1h1v-1zM857 298v8h1v-8zM858 292v4h1v-4zM859 286v13h1v-13zM860 298v8h1v-8zM862 299v2h1v-2zM863 303v17h1v-17zM864 307v5h1v-5zM864 314v5h1v-5zM864 320v3h1v-3zM865 313v15h1v-15zM866 316v25h1v-25zM869 327v16h1v-16zM872 329v6h1v-6zM873 329v7h1v-7zM876 321v3h1v-3zM877 324v11h1v-11zM877 339v4h1v-4zM878 328v31h1v-31zM880 340v12h1v-12zM881 351v2h1v-2zM882 344v13h1v-13zM884 333v13h1v-13zM887 326v10h1v-10zM888 325v10h1v-10zM889 328v1h1v-1zM890 327v6h1v-6zM893 316v1h1v-1zM895 319v4h1v-4zM896 302v7h1v-7zM898 300v11h1v-11zM899 300v11h1v-11zM900 306v4h1v-4zM901 304v7h1v-7zM902 298v12h1v-12zM904 303v13h1v-13zM906 310v3h1v-3zM909 295v5h1v-5zM912 277v10h1v-10zM915 241v11h1v-11zM916 244v5h1v-5zM916 251v14h1v-14zM918 255v15h1v-15zM919 257v15h1v-15zM920 267v9h1v-9zM921 275v9h1v-9zM923 278v2h1v-2zM924 281v5h1v-5zM925 282v7h1v-7zM926 289v6h1v-6zM928 291v27h1v-27zM929 304v6h1v-6zM931 310v15h1v-15zM935 287v1h1v-1zM936 286v12h1v-12zM938 294v1h1v-1zM938 298v4h1v-4zM939 294v7h1v-7zM940 292v9h1v-9zM941 291v4h1v-4zM941 300v5h1v-5zM942 290v7h1v-7zM942 300v5h1v-5zM944 279v2h1v-2zM945 270v6h1v-6zM946 270v27h1v-27zM947 274v5h1v-5zM947 292v5h1v-5zM948 295v4h1v-4zM948 306v1h1v-1zM950 288v6h1v-6zM951 281v5h1v-5zM951 288v4h1v-4zM954 274v5h1v-5zM955 277v10h1v-10zM956 288v2h1v-2zM957 286v10h1v-10zM958 292v3h1v-3zM959 288v1h1v-1zM960 290v14h1v-14zM961 303v6h1v-6zM961 313v4h1v-4zM962 308v10h1v-10zM963 316v7h1v-7zM964 317v5h1v-5zM965 318v9h1v-9zM967 325v8h1v-8zM967 341v5h1v-5zM968 338v8h1v-8zM971 320v2h1v-2zM971 329v5h1v-5zM972 319v10h1v-10zM973 327v6h1v-6zM974 333v1h1v-1zM975 322v2h1v-2zM975 325v6h1v-6zM976 326v4h1v-4zM977 322v4h1v-4zM977 334v4h1v-4zM978 324v27h1v-27zM979 330v6h1v-6zM979 344v9h1v-9zM982 337v12h1v-12zM983 348v8h1v-8zM987 320v3h1v-3zM988 315v9h1v-9zM989 324v57h1v-57zM990 355v6h1v-6zM992 360v4h1v-4zM992 370v4h1v-4zM993 364v15h1v-15zM995 359v21h1v-21zM996 379v8h1v-8zM997 387v13h1v-13zM999 380v7h1v-7zM1000 381v3h1v-3zM1001 382v6h1v-6zM1002 386v11h1v-11zM1003 398v3h1v-3zM1004 393v10h1v-10zM1005 402v8h1v-8zM1006 410v8h1v-8zM1006 423v4h1v-4zM1007 418v45h1v-45zM1009 455v1h1v-1zM1010 471v1h1v-1zM1011 440v8h1v-8zM1011 464v4h1v-4zM1012 431v30h1v-30zM1013 438v6h1v-6zM1014 426v3h1v-3zM1015 424v8h1v-8zM1015 434v6h1v-6zM1016 430v11h1v-11zM1017 402v3h1v-3zM1019 398v6h1v-6zM1019 406v6h1v-6zM1020 403v10h1v-10zM1020 423v1h1v-1zM1021 412v17h1v-17zM1025 402v5h1v-5zM1027 403v4h1v-4zM1028 401v16h1v-16zM1030 401v15h1v-15zM1032 406v9h1v-9zM1033 415v6h1v-6zM1037 362v13h1v-13zM1038 367v21h1v-21zM1039 368v7h1v-7zM1041 369v10h1v-10zM1042 379v2h1v-2zM1043 379v6h1v-6zM1044 380v4h1v-4zM1046 373v7h1v-7zM1046 382v5h1v-5zM1047 380v11h1v-11zM1049 385v2h1v-2zM1049 391v3h1v-3zM1051 374v13h1v-13zM1052 365v1h1v-1zM1053 363v31h1v-31zM1054 401v4h1v-4zM1055 384v23h1v-23zM1056 390v6h1v-6zM1056 407v14h1v-14zM1057 411v7h1v-7zM1059 379v18h1v-18zM1060 397v1h1v-1zM1061 390v22h1v-22zM1062 410v10h1v-10zM1065 398v6h1v-6zM1065 423v4h1v-4zM1066 409v36h1v-36zM1067 436v5h1v-5zM1068 421v5h1v-5zM1069 426v16h1v-16zM1071 428v15h1v-15zM1072 430v5h1v-5zM1074 436v5h1v-5zM1075 451v2h1v-2zM1076 430v7h1v-7zM1076 441v14h1v-14zM1078 442v5h1v-5zM1078 453v1h1v-1zM1079 445v10h1v-10zM1079 460v4h1v-4zM1080 452v16h1v-16zM1081 468v31h1v-31zM1083 486v7h1v-7zM1085 478v1h1v-1zM1086 472v25h1v-25zM1088 479v25h1v-25zM1089 481v5h1v-5zM1089 504v32h1v-32zM1090 515v13h1v-13zM1092 505v11h1v-11zM1093 513v25h1v-25zM1093 539v7h1v-7zM1094 524v6h1v-6zM1094 538v8h1v-8zM1095 545v11h1v-11zM1097 497v19h1v-19zM1099 525v4h1v-4zM1100 457v6h1v-6zM1100 481v6h1v-6zM1100 501v6h1v-6zM1101 463v27h1v-27zM1102 480v16h1v-16zM1103 473v3h1v-3zM1104 471v1h1v-1zM1105 470v33h1v-33zM1108 460v6h1v-6zM1108 493v4h1v-4zM1113 407v13h1v-13zM1113 423v12h1v-12zM1113 442v6h1v-6zM1114 409v3h1v-3zM1115 329v5h1v-5zM1116 305v20h1v-20zM1116 329v29h1v-29zM1117 325v2h1v-2zM1118 331v6h1v-6zM1119 309v11h1v-11zM1121 298v17h1v-17zM1122 302v20h1v-20zM1123 304v13h1v-13zM1125 295v15h1v-15zM1126 290v18h1v-18zM1129 278v9h1v-9zM1130 286v27h1v-27zM1131 300v6h1v-6zM1131 316v1h1v-1zM1132 304v13h1v-13zM1132 322v3h1v-3zM1133 292v6h1v-6zM1133 316v15h1v-15zM1134 325v4h1v-4zM1135 287v5h1v-5zM1136 290v15h1v-15zM1138 304v11h1v-11zM1139 315v10h1v-10zM1140 321v56h1v-56zM1141 376v23h1v-23zM1142 399v15h1v-15zM1142 423v11h1v-11zM1143 427v17h1v-17zM1144 414v7h1v-7zM1144 444v3h1v-3zM1146 394v13h1v-13zM1147 399v14h1v-14zM1150 367v6h1v-6zM1151 373v21h1v-21zM1153 377v19h1v-19zM1154 380v6h1v-6zM1154 395v35h1v-35zM1156 418v45h1v-45zM1158 406v5h1v-5zM1162 368v5h1v-5zM1163 370v7h1v-7zM1164 377v9h1v-9zM1165 385v10h1v-10zM1165 397v7h1v-7zM1166 395v4h1v-4zM1168 362v11h1v-11zM1169 366v6h1v-6zM1170 354v6h1v-6zM1171 358v20h1v-20zM1172 377v12h1v-12zM1176 348v17h1v-17zM1177 359v4h1v-4zM1178 356v17h1v-17zM1179 353v12h1v-12zM1180 365v25h1v-25zM1180 407v1h1v-1zM1181 394v2h1v-2zM1182 388v18h1v-18zM1184 393v17h1v-17zM1185 386v19h1v-19zM1187 381v4h1v-4zM1188 370v6h1v-6zM1189 376v20h1v-20zM1190 395v17h1v-17zM1191 412v3h1v-3zM1191 422v11h1v-11zM1192 426v6h1v-6zM1192 433v10h1v-10zM1193 421v7h1v-7zM1193 434v4h1v-4zM1194 419v14h1v-14zM1196 423v13h1v-13zM1198 427v10h1v-10zM1200 399v5h1v-5zM1200 436v5h1v-5zM1202 396v19h1v-19zM1204 397v14h1v-14zM1204 415v3h1v-3zM1205 413v8h1v-8zM1206 405v4h1v-4zM1207 404v6h1v-6zM1208 406v34h1v-34zM1210 406v6h1v-6zM1211 410v13h1v-13zM1213 414v6h1v-6zM1213 423v6h1v-6zM1214 415v9h1v-9zM1215 421v6h1v-6zM1215 429v4h1v-4zM1216 424v5h1v-5zM1217 428v18h1v-18zM1218 446v21h1v-21zM1219 452v5h1v-5zM1219 464v16h1v-16zM1222 442v4h1v-4zM1222 452v4h1v-4zM1223 446v13h1v-13zM1224 459v8h1v-8zM1225 455v22h1v-22zM1228 442v28h1v-28zM1229 470v11h1v-11zM1230 462v8h1v-8zM1231 467v25h1v-25zM1232 490v12h1v-12zM1233 501v17h1v-17zM1233 540v6h1v-6zM1234 518v33h1v-33zM1235 523v6h1v-6zM1238 476v11h1v-11zM1239 456v2h1v-2zM1240 455v7h1v-7zM1241 454v27h1v-27zM1242 460v6h1v-6zM1243 454v16h1v-16zM1246 430v1h1v-1zM1247 408v13h1v-13zM1248 408v5h1v-5zM1248 421v19h1v-19zM1248 446v4h1v-4zM1249 437v17h1v-17zM1251 392v48h1v-48zM1251 445v7h1v-7zM1252 439v7h1v-7zM1252 470v21h1v-21zM1253 446v2h1v-2zM1253 454v16h1v-16zM1254 446v12h1v-12zM1255 458v12h1v-12zM1255 476v1h1v-1zM1255 480v11h1v-11zM1256 491v9h1v-9zM1257 448v4h1v-4zM1259 442v10h1v-10zM1261 450v8h1v-8zM1261 470v10h1v-10zM1262 459v2h1v-2zM1262 465v5h1v-5zM1263 451v5h1v-5zM1263 460v6h1v-6zM1264 467v6h1v-6zM1265 430v25h1v-25zM1266 450v4h1v-4zM1269 386v20h1v-20zM1272 406v1h1v-1zM1273 406v7h1v-7zM1273 418v7h1v-7zM1274 403v19h1v-19zM1275 414v6h1v-6zM1275 422v22h1v-22zM1276 415v26h1v-26zM1278 425v22h1v-22zM1279 445v19h1v-19zM1279 465v4h1v-4zM1280 463v58h1v-58zM1280 523v5h1v-5zM1281 521v9h1v-9zM1283 509v29h1v-29zM1285 464v6h1v-6zM1286 475v14h1v-14zM1287 452v18h1v-18zM1287 471v6h1v-6zM1288 471v20h1v-20zM1290 472v7h1v-7zM1290 480v15h1v-15zM1291 401v6h1v-6zM1292 386v45h1v-45zM1292 497v3h1v-3zM1293 387v4h1v-4zM1294 410v28h1v-28zM1296 392v23h1v-23zM1297 398v46h1v-46zM1298 432v1h1v-1zM1299 432v2h1v-2zM1299 436v30h1v-30zM1300 465v3h1v-3zM1301 466v1h1v-1zM1301 475v1h1v-1zM1302 439v12h1v-12zM1303 451v7h1v-7zM1304 425v14h1v-14zM1306 424v8h1v-8zM1308 412v4h1v-4zM1309 416v19h1v-19zM1311 411v6h1v-6zM1312 416v24h1v-24zM1313 424v3h1v-3zM1314 418v11h1v-11zM1315 429v16h1v-16zM1316 432v12h1v-12zM1317 439v21h1v-21zM1320 436v22h1v-22zM1321 450v25h1v-25zM1322 470v20h1v-20zM1324 446v2h1v-2zM1325 444v6h1v-6zM1326 449v2h1v-2zM1327 443v5h1v-5zM1328 411v11h1v-11zM1329 413v7h1v-7zM1329 428v6h1v-6zM1330 408v10h1v-10zM1331 416v6h1v-6zM1332 418v7h1v-7zM1334 422v8h1v-8zM1335 410v6h1v-6zM1336 410v8h1v-8zM1341 346v5h1v-5zM1345 298v18h1v-18zM1345 321v1h1v-1zM1346 295v6h1v-6zM1347 316v2h1v-2zM1349 285v35h1v-35zM1351 309v14h1v-14zM1352 308v12h1v-12zM1354 306v17h1v-17zM1356 311v52h1v-52zM1357 362v12h1v-12zM1357 387v1h1v-1zM1358 355v15h1v-15zM1358 379v5h1v-5zM1359 367v9h1v-9zM1360 375v4h1v-4zM1361 345v19h1v-19zM1362 343v11h1v-11zM1363 334v5h1v-5zM1364 329v1h1v-1zM1364 333v8h1v-8zM1367 319v25h1v-25zM1369 325v4h1v-4zM1371 323v11h1v-11zM1372 333v5h1v-5zM1373 335v1h1v-1zM1374 336v9h1v-9zM1378 318v7h1v-7zM1378 326v8h1v-8zM1380 312v5h1v-5zM1381 321v5h1v-5zM1383 284v1h1v-1zM1383 290v5h1v-5zM1383 298v6h1v-6zM1384 315v6h1v-6zM1385 288v47h1v-47zM1389 298v9h1v-9zM1390 299v20h1v-20zM1391 301v3h1v-3zM1391 311v5h1v-5zM1391 317v6h1v-6zM1392 321v9h1v-9zM1393 324v8h1v-8zM1394 331v6h1v-6zM1395 330v22h1v-22zM1396 335v7h1v-7zM1397 332v9h1v-9zM1398 332v4h1v-4zM1400 313v12h1v-12zM1402 317v7h1v-7zM1403 317v4h1v-4zM1404 313v9h1v-9zM1404 323v6h1v-6zM1405 315v3h1v-3zM1405 321v9h1v-9zM1406 329v13h1v-13zM1407 331v11h1v-11zM1409 330v9h1v-9zM1410 335v5h1v-5zM1412 336v1h1v-1zM1414 327v8h1v-8zM1416 317v5h1v-5zM1418 319v5h1v-5zM1419 324v12h1v-12zM1421 316v3h1v-3zM1421 331v2h1v-2zM1422 304v6h1v-6zM1424 300v11h1v-11zM1428 307v17h1v-17zM1429 323v9h1v-9zM1431 323v1h1v-1zM1433 316v14h1v-14zM1434 329v9h1v-9zM1435 333v6h1v-6zM1436 335v6h1v-6zM1437 338v11h1v-11zM1438 346v9h1v-9zM1440 351v7h1v-7zM1441 356v5h1v-5zM1442 356v14h1v-14zM1443 358v5h1v-5zM1444 354v5h1v-5zM1445 357v9h1v-9zM1447 356v6h1v-6zM1449 342v6h1v-6zM1450 343v5h1v-5zM1454 333v5h1v-5zM1455 326v18h1v-18zM1457 335v8h1v-8zM1459 331v18h1v-18zM1460 349v9h1v-9zM1461 357v6h1v-6zM1463 358v8h1v-8zM1464 359v18h1v-18zM1465 364v4h1v-4zM1470 293v7h1v-7zM1471 293v7h1v-7zM1473 245v5h1v-5zM1474 249v6h1v-6zM1475 250v25h1v-25zM1476 272v19h1v-19zM1478 272v3h1v-3zM1479 269v6h1v-6zM1479 277v1h1v-1zM1479 282v1h1v-1zM1481 269v3h1v-3zM1482 275v2h1v-2zM1483 273v2h1v-2zM1483 276v13h1v-13zM1484 288v9h1v-9zM1485 297v14h1v-14zM1486 311v6h1v-6zM1488 309v2h1v-2zM1489 311v11h1v-11zM1490 336v6h1v-6zM1491 312v64h1v-64zM1493 358v45h1v-45zM1495 368v14h1v-14zM1498 352v4h1v-4zM1498 374v4h1v-4zM1499 352v5h1v-5zM1499 360v3h1v-3zM1500 356v3h1v-3zM1501 349v2h1v-2zM1502 344v1h1v-1zM1503 344v3h1v-3zM1503 349v2h1v-2zM1504 347v6h1v-6zM1505 340v5h1v-5zM1506 343v9h1v-9zM1507 347v7h1v-7zM1507 356v7h1v-7zM1508 353v3h1v-3zM1509 355v12h1v-12zM1510 358v11h1v-11zM1511 366v7h1v-7zM1512 367v6h1v-6zM1513 360v13h1v-13zM1514 364v7h1v-7zM1514 375v2h1v-2zM1515 361v5h1v-5zM1516 358v9h1v-9zM1517 362v6h1v-6zM1518 365v12h1v-12zM1518 378v7h1v-7zM1519 377v1h1v-1zM1520 371v3h1v-3zM1521 369v6h1v-6zM1522 369v6h1v-6zM1523 363v6h1v-6zM1525 346v6h1v-6zM1526 350v10h1v-10zM1527 352v4h1v-4zM1527 357v2h1v-2zM1527 366v4h1v-4zM1528 360v12h1v-12zM1529 370v6h1v-6zM1530 375v1h1v-1zM1531 377v11h1v-11zM1532 387v1h1v-1zM1533 390v3h1v-3zM1534 375v6h1v-6zM1537 362v6h1v-6zM1538 365v3h1v-3zM1539 367v8h1v-8zM1540 371v6h1v-6zM1541 372v7h1v-7zM1542 371v7h1v-7zM1543 358v11h1v-11zM1543 375v1h1v-1zM1546 325v10h1v-10zM1548 329v2h1v-2zM1549 335v5h1v-5zM1550 327v1h1v-1zM1550 331v7h1v-7zM1551 339v16h1v-16zM1552 351v1h1v-1zM1554 353v6h1v-6zM1555 356v19h1v-19zM1556 362v6h1v-6zM1557 358v5h1v-5zM1558 359v3h1v-3zM1559 362v1h1v-1zM1560 360v1h1v-1zM1561 349v9h1v-9zM1562 350v10h1v-10zM1563 357v6h1v-6zM1565 347v4h1v-4zM1565 355v1h1v-1zM1566 343v17h1v-17zM1567 346v14h1v-14zM1568 355v5h1v-5zM1570 343v4h1v-4zM1571 343v6h1v-6zM1572 332v7h1v-7zM1573 332v9h1v-9zM1574 345v1h1v-1zM1575 341v6h1v-6zM1576 344v6h1v-6zM1577 345v2h1v-2zM1579 348v1h1v-1zM1580 355v1h1v-1zM1583 339v6h1v-6zM1584 342v7h1v-7zM1585 346v6h1v-6zM1586 347v6h1v-6z"/>
<path id="cg" fill="#089981" d="M12 118v3h1v-3zM13 107v3h1v-3zM16 128v10h1v-10zM17 117v11h1v-11zM19 112v1h1v-1zM20 115v4h1v-4zM21 115v14h1v-14zM22 117v6h1v-6zM23 136v4h1v-4zM24 117v1h1v-1zM24 122v21h1v-21zM25 114v13h1v-13zM26 90v24h1v-24zM28 97v6h1v-6zM29 96v7h1v-7zM31 120v4h1v-4zM32 119v6h1v-6zM33 111v10h1v-10zM34 110v1h1v-1zM36 116v12h1v-12zM38 117v17h1v-17zM39 109v10h1v-10zM41 122v4h1v-4zM42 122v6h1v-6zM43 112v12h1v-12zM43 126v6h1v-6zM44 109v3h1v-3zM45 106v1h1v-1zM46 117v1h1v-1zM47 128v4h1v-4zM48 128v6h1v-6zM50 110v5h1v-5zM50 116v4h1v-4zM50 124v10h1v-10zM51 108v17h1v-17zM52 118v4h1v-4zM53 118v6h1v-6zM54 111v9h1v-9zM55 107v9h1v-9zM56 100v13h1v-13zM57 104v3h1v-3zM58 96v12h1v-12zM60 104v8h1v-8zM64 117v14h1v-14zM68 134v18h1v-18zM69 133v1h1v-1zM70 145v11h1v-11zM71 145v6h1v-6zM71 153v9h1v-9zM72 152v5h1v-5zM73 128v27h1v-27zM74 126v10h1v-10zM75 115v19h1v-19zM76 114v2h1v-2zM77 120v5h1v-5zM77 126v9h1v-9zM79 124v7h1v-7zM80 126v3h1v-3zM81 110v12h1v-12zM83 107v7h1v-7zM84 107v6h1v-6zM86 97v11h1v-11zM87 100v1h1v-1zM89 110v11h1v-11zM90 107v8h1v-8zM91 103v10h1v-10zM93 106v2h1v-2zM93 111v4h1v-4zM94 104v9h1v-9zM96 108v6h1v-6zM100 123v8h1v-8zM101 137v6h1v-6zM103 127v6h1v-6zM103 137v9h1v-9zM104 112v6h1v-6zM104 120v18h1v-18zM105 121v1h1v-1zM106 119v9h1v-9zM107 125v4h1v-4zM108 120v3h1v-3zM108 143v5h1v-5zM110 135v18h1v-18zM111 155v6h1v-6zM112 158v16h1v-16zM113 148v12h1v-12zM114 140v10h1v-10zM117 145v4h1v-4zM118 139v17h1v-17zM119 137v4h1v-4zM120 134v2h1v-2zM121 150v17h1v-17zM123 154v8h1v-8zM124 136v19h1v-19zM126 148v4h1v-4zM129 165v6h1v-6zM130 161v1h1v-1zM131 161v24h1v-24zM132 152v2h1v-2zM132 156v7h1v-7zM133 147v12h1v-12zM135 147v4h1v-4zM136 157v14h1v-14zM138 162v6h1v-6zM140 157v12h1v-12zM141 155v1h1v-1zM142 146v9h1v-9zM143 178v2h1v-2zM144 172v6h1v-6zM146 182v4h1v-4zM146 187v4h1v-4zM148 172v20h1v-20zM149 163v11h1v-11zM150 164v5h1v-5zM151 161v1h1v-1zM151 168v13h1v-13zM155 175v9h1v-9zM156 174v4h1v-4zM157 168v6h1v-6zM158 169v5h1v-5zM159 170v1h1v-1zM161 176v12h1v-12zM161 200v4h1v-4zM162 177v5h1v-5zM162 198v7h1v-7zM163 198v2h1v-2zM165 183v14h1v-14zM165 201v1h1v-1zM167 203v2h1v-2zM169 189v29h1v-29zM170 176v14h1v-14zM170 204v6h1v-6zM171 179v3h1v-3zM174 188v5h1v-5zM176 183v4h1v-4zM179 231v6h1v-6zM179 241v7h1v-7zM181 230v4h1v-4zM182 234v8h1v-8zM184 228v28h1v-28zM185 228v3h1v-3zM186 219v12h1v-12zM187 214v7h1v-7zM189 214v11h1v-11zM190 211v4h1v-4zM190 220v5h1v-5zM191 211v2h1v-2zM194 219v4h1v-4zM194 228v13h1v-13zM197 235v13h1v-13zM198 234v6h1v-6zM201 240v8h1v-8zM202 238v3h1v-3zM206 251v12h1v-12zM207 257v12h1v-12zM208 248v15h1v-15zM209 242v8h1v-8zM212 255v6h1v-6zM213 248v4h1v-4zM214 244v18h1v-18zM217 250v10h1v-10zM218 242v9h1v-9zM219 246v2h1v-2zM220 245v4h1v-4zM221 241v7h1v-7zM222 228v2h1v-2zM222 231v14h1v-14zM223 228v4h1v-4zM224 224v5h1v-5zM225 223v5h1v-5zM226 217v7h1v-7zM226 229v6h1v-6zM227 215v8h1v-8zM227 228v3h1v-3zM228 215v1h1v-1zM230 208v8h1v-8zM231 204v11h1v-11zM236 219v3h1v-3zM236 232v4h1v-4zM237 222v4h1v-4zM238 228v8h1v-8zM242 235v3h1v-3zM243 228v21h1v-21zM244 244v5h1v-5zM245 230v8h1v-8zM245 243v1h1v-1zM246 224v7h1v-7zM247 200v26h1v-26zM249 208v5h1v-5zM250 206v1h1v-1zM251 220v4h1v-4zM253 231v1h1v-1zM255 228v4h1v-4zM257 245v7h1v-7zM258 243v11h1v-11zM259 237v7h1v-7zM260 241v2h1v-2zM260 244v6h1v-6zM261 230v4h1v-4zM261 242v10h1v-10zM262 228v15h1v-15zM264 226v2h1v-2zM264 230v1h1v-1zM265 226v5h1v-5zM265 240v8h1v-8zM266 224v19h1v-19zM266 245v3h1v-3zM267 220v1h1v-1zM270 224v7h1v-7zM270 236v2h1v-2zM271 219v8h1v-8zM271 228v10h1v-10zM272 219v5h1v-5zM273 218v2h1v-2zM273 228v3h1v-3zM274 215v2h1v-2zM275 210v8h1v-8zM278 194v22h1v-22zM279 189v7h1v-7zM280 189v1h1v-1zM281 185v27h1v-27zM282 183v4h1v-4zM282 190v6h1v-6zM282 198v7h1v-7zM283 181v2h1v-2zM284 238v7h1v-7zM285 217v6h1v-6zM285 228v18h1v-18zM286 212v6h1v-6zM288 207v5h1v-5zM288 228v5h1v-5zM289 219v8h1v-8zM290 213v7h1v-7zM290 228v13h1v-13zM291 205v9h1v-9zM292 220v3h1v-3zM295 230v1h1v-1zM296 226v3h1v-3zM296 233v1h1v-1zM298 179v5h1v-5zM298 199v47h1v-47zM299 174v3h1v-3zM299 178v23h1v-23zM300 168v11h1v-11zM301 181v1h1v-1zM302 175v10h1v-10zM306 207v15h1v-15zM308 215v8h1v-8zM309 203v13h1v-13zM309 217v4h1v-4zM312 190v20h1v-20zM313 214v7h1v-7zM314 195v5h1v-5zM314 212v14h1v-14zM317 231v9h1v-9zM319 223v10h1v-10zM320 217v7h1v-7zM321 207v16h1v-16zM321 228v2h1v-2zM322 209v4h1v-4zM323 212v14h1v-14zM324 225v1h1v-1zM326 257v5h1v-5zM327 296v23h1v-23zM328 280v4h1v-4zM330 305v18h1v-18zM331 291v5h1v-5zM332 313v1h1v-1zM332 323v4h1v-4zM334 349v6h1v-6zM334 360v31h1v-31zM335 343v18h1v-18zM337 340v4h1v-4zM337 374v5h1v-5zM338 363v24h1v-24zM340 374v7h1v-7zM341 382v3h1v-3zM343 400v40h1v-40zM346 443v50h1v-50zM348 438v17h1v-17zM348 461v15h1v-15zM349 413v43h1v-43zM350 422v4h1v-4zM351 433v1h1v-1zM352 404v5h1v-5zM352 416v4h1v-4zM352 426v2h1v-2zM353 415v20h1v-20zM355 427v30h1v-30zM356 434v7h1v-7zM357 422v4h1v-4zM357 429v16h1v-16zM359 422v5h1v-5zM360 431v13h1v-13zM361 425v12h1v-12zM362 421v5h1v-5zM363 418v1h1v-1zM364 426v12h1v-12zM366 424v21h1v-21zM369 431v25h1v-25zM371 438v23h1v-23zM371 466v9h1v-9zM373 433v5h1v-5zM373 440v31h1v-31zM375 445v14h1v-14zM377 447v4h1v-4zM377 460v6h1v-6zM378 456v6h1v-6zM379 506v7h1v-7zM380 488v18h1v-18zM381 491v5h1v-5zM381 503v9h1v-9zM381 516v2h1v-2zM382 453v61h1v-61zM383 439v7h1v-7zM384 445v20h1v-20zM386 452v15h1v-15zM387 473v11h1v-11zM388 475v7h1v-7zM390 505v9h1v-9zM392 540v41h1v-41zM393 551v29h1v-29zM394 560v7h1v-7zM395 576v6h1v-6zM396 559v4h1v-4zM397 555v47h1v-47zM398 567v6h1v-6zM399 555v34h1v-34zM400 559v21h1v-21zM401 543v23h1v-23zM404 552v5h1v-5zM404 559v12h1v-12zM405 547v30h1v-30zM408 532v6h1v-6zM408 543v3h1v-3zM409 528v5h1v-5zM411 523v14h1v-14zM412 514v10h1v-10zM413 508v19h1v-19zM415 475v36h1v-36zM416 503v3h1v-3zM417 481v13h1v-13zM418 486v4h1v-4zM419 502v25h1v-25zM420 520v5h1v-5zM421 503v8h1v-8zM422 514v4h1v-4zM422 533v28h1v-28zM423 548v8h1v-8zM424 541v15h1v-15zM425 544v16h1v-16zM426 526v18h1v-18zM427 529v16h1v-16zM429 547v1h1v-1zM429 554v6h1v-6zM430 554v7h1v-7zM431 538v17h1v-17zM433 529v19h1v-19zM434 515v15h1v-15zM436 533v5h1v-5zM437 513v20h1v-20zM440 523v15h1v-15zM441 520v5h1v-5zM443 524v9h1v-9zM448 530v4h1v-4zM448 535v25h1v-25zM449 520v2h1v-2zM449 529v10h1v-10zM451 520v14h1v-14zM454 517v5h1v-5zM454 526v14h1v-14zM455 517v9h1v-9zM456 501v16h1v-16zM457 500v6h1v-6zM458 495v14h1v-14zM459 503v13h1v-13zM460 496v6h1v-6zM460 508v6h1v-6zM461 489v13h1v-13zM462 456v34h1v-34zM462 498v3h1v-3zM463 433v5h1v-5zM463 441v16h1v-16zM464 432v10h1v-10zM465 376v3h1v-3zM465 403v32h1v-32zM466 375v28h1v-28zM468 394v9h1v-9zM469 413v4h1v-4zM470 401v6h1v-6zM471 394v25h1v-25zM472 377v24h1v-24zM473 368v10h1v-10zM474 317v23h1v-23zM474 347v22h1v-22zM475 337v10h1v-10zM476 299v20h1v-20zM476 324v2h1v-2zM478 268v46h1v-46zM479 296v5h1v-5zM480 294v9h1v-9zM480 308v2h1v-2zM480 316v3h1v-3zM481 292v6h1v-6zM483 303v27h1v-27zM484 278v25h1v-25zM485 294v6h1v-6zM486 275v21h1v-21zM487 310v5h1v-5zM488 283v7h1v-7zM488 305v14h1v-14zM489 302v6h1v-6zM490 301v13h1v-13zM491 290v12h1v-12zM491 308v5h1v-5zM492 280v11h1v-11zM493 267v13h1v-13zM494 262v6h1v-6zM494 274v5h1v-5zM495 269v11h1v-11zM496 291v25h1v-25zM498 320v3h1v-3zM499 296v27h1v-27zM501 298v12h1v-12zM502 300v10h1v-10zM503 317v19h1v-19zM507 329v11h1v-11zM508 369v6h1v-6zM509 362v6h1v-6zM510 339v17h1v-17zM510 357v20h1v-20zM510 381v3h1v-3zM511 324v5h1v-5zM511 353v5h1v-5zM512 324v25h1v-25zM514 337v4h1v-4zM515 324v4h1v-4zM515 334v3h1v-3zM516 338v5h1v-5zM517 327v5h1v-5zM517 353v3h1v-3zM518 353v1h1v-1zM520 347v14h1v-14zM520 362v7h1v-7zM520 372v2h1v-2zM521 346v5h1v-5zM521 353v10h1v-10zM522 345v2h1v-2zM523 361v2h1v-2zM524 359v4h1v-4zM526 373v21h1v-21zM529 398v5h1v-5zM530 394v4h1v-4zM531 379v16h1v-16zM532 364v23h1v-23zM535 369v21h1v-21zM536 367v5h1v-5zM537 376v9h1v-9zM537 407v5h1v-5zM539 402v3h1v-3zM539 407v11h1v-11zM540 390v5h1v-5zM540 397v11h1v-11zM540 410v5h1v-5zM541 386v17h1v-17zM542 368v1h1v-1zM542 384v2h1v-2zM543 372v12h1v-12zM544 376v5h1v-5zM544 389v21h1v-21zM547 389v16h1v-16zM548 373v16h1v-16zM549 360v21h1v-21zM550 347v13h1v-13zM551 330v17h1v-17zM551 353v6h1v-6zM554 339v20h1v-20zM556 342v14h1v-14zM558 331v12h1v-12zM560 342v5h1v-5zM560 357v25h1v-25zM562 346v28h1v-28zM563 349v6h1v-6zM564 348v12h1v-12zM565 353v11h1v-11zM569 356v29h1v-29zM571 357v5h1v-5zM572 354v16h1v-16zM574 362v6h1v-6zM575 353v9h1v-9zM577 356v17h1v-17zM579 353v7h1v-7zM581 348v18h1v-18zM582 351v4h1v-4zM583 350v5h1v-5zM584 365v7h1v-7zM587 386v11h1v-11zM589 396v6h1v-6zM590 384v12h1v-12zM591 390v5h1v-5zM592 381v11h1v-11zM593 389v6h1v-6zM594 383v15h1v-15zM595 384v7h1v-7zM597 386v7h1v-7zM600 452v4h1v-4zM601 433v20h1v-20zM602 412v6h1v-6zM602 430v7h1v-7zM602 438v6h1v-6zM603 407v25h1v-25zM606 398v17h1v-17zM608 398v11h1v-11zM609 395v2h1v-2zM610 388v10h1v-10zM610 402v1h1v-1zM611 388v4h1v-4zM612 392v5h1v-5zM613 397v6h1v-6zM614 388v3h1v-3zM615 381v5h1v-5zM615 387v16h1v-16zM616 381v8h1v-8zM618 374v10h1v-10zM619 370v6h1v-6zM621 363v2h1v-2zM621 371v1h1v-1zM623 362v5h1v-5zM625 361v6h1v-6zM626 350v2h1v-2zM626 359v5h1v-5zM627 353v6h1v-6zM629 363v2h1v-2zM630 365v3h1v-3zM630 373v4h1v-4zM631 376v5h1v-5zM635 373v4h1v-4zM635 381v9h1v-9zM636 366v15h1v-15zM638 345v6h1v-6zM638 353v23h1v-23zM639 355v7h1v-7zM640 365v1h1v-1zM641 355v8h1v-8zM643 353v10h1v-10zM644 355v1h1v-1zM645 348v7h1v-7zM646 347v2h1v-2zM646 353v2h1v-2zM646 360v3h1v-3zM648 349v14h1v-14zM649 350v4h1v-4zM652 385v11h1v-11zM654 382v6h1v-6zM654 400v9h1v-9zM655 321v5h1v-5zM655 330v7h1v-7zM655 359v40h1v-40zM656 312v48h1v-48zM658 329v2h1v-2zM662 359v8h1v-8zM663 353v6h1v-6zM664 337v19h1v-19zM665 351v3h1v-3zM666 334v10h1v-10zM668 325v12h1v-12zM670 320v10h1v-10zM671 310v17h1v-17zM672 307v3h1v-3zM673 292v3h1v-3zM673 298v18h1v-18zM674 294v5h1v-5zM676 310v4h1v-4zM677 306v15h1v-15zM678 304v4h1v-4zM679 289v1h1v-1zM679 310v5h1v-5zM680 303v7h1v-7zM681 300v3h1v-3zM683 325v2h1v-2zM683 333v6h1v-6zM687 325v17h1v-17zM688 318v5h1v-5zM689 316v11h1v-11zM689 331v1h1v-1zM690 314v1h1v-1zM690 319v1h1v-1zM691 320v7h1v-7zM693 325v6h1v-6zM696 342v17h1v-17zM697 337v6h1v-6zM700 349v7h1v-7zM702 346v9h1v-9zM704 348v11h1v-11zM706 341v16h1v-16zM707 341v4h1v-4zM709 332v2h1v-2zM709 339v4h1v-4zM711 340v5h1v-5zM713 355v17h1v-17zM715 363v6h1v-6zM716 342v3h1v-3zM716 355v10h1v-10zM717 326v7h1v-7zM717 337v8h1v-8zM717 350v7h1v-7zM717 359v5h1v-5zM718 316v21h1v-21zM718 342v9h1v-9zM720 318v10h1v-10zM721 313v1h1v-1zM722 321v14h1v-14zM724 325v10h1v-10zM728 344v6h1v-6zM729 339v14h1v-14zM730 336v4h1v-4zM731 336v4h1v-4zM732 334v11h1v-11zM734 337v13h1v-13zM736 350v5h1v-5zM739 365v10h1v-10zM741 372v4h1v-4zM742 359v3h1v-3zM742 367v5h1v-5zM744 360v6h1v-6zM745 360v4h1v-4zM747 352v13h1v-13zM748 337v4h1v-4zM748 348v6h1v-6zM749 345v8h1v-8zM750 341v5h1v-5zM752 335v17h1v-17zM754 340v5h1v-5zM755 319v4h1v-4zM755 324v18h1v-18zM756 316v9h1v-9zM758 313v10h1v-10zM760 304v14h1v-14zM763 310v11h1v-11zM765 316v9h1v-9zM766 316v2h1v-2zM767 325v1h1v-1zM768 318v7h1v-7zM769 319v6h1v-6zM770 318v13h1v-13zM772 319v1h1v-1zM772 323v2h1v-2zM774 305v3h1v-3zM774 322v7h1v-7zM775 304v18h1v-18zM776 313v5h1v-5zM777 301v3h1v-3zM777 306v1h1v-1zM778 300v5h1v-5zM780 298v5h1v-5zM782 306v3h1v-3zM783 297v3h1v-3zM783 305v1h1v-1zM786 313v2h1v-2zM788 312v7h1v-7zM789 309v10h1v-10zM790 300v10h1v-10zM791 294v11h1v-11zM791 306v4h1v-4zM792 294v6h1v-6zM794 295v7h1v-7zM795 289v8h1v-8zM796 283v8h1v-8zM797 260v6h1v-6zM797 275v10h1v-10zM798 248v22h1v-22zM799 272v4h1v-4zM800 249v6h1v-6zM800 267v5h1v-5zM800 282v4h1v-4zM801 281v11h1v-11zM803 284v7h1v-7zM805 284v9h1v-9zM807 284v11h1v-11zM810 278v7h1v-7zM810 287v12h1v-12zM813 287v11h1v-11zM815 291v5h1v-5zM816 282v9h1v-9zM818 284v10h1v-10zM820 285v10h1v-10zM821 281v5h1v-5zM822 282v1h1v-1zM823 265v5h1v-5zM823 272v11h1v-11zM824 260v13h1v-13zM826 272v8h1v-8zM827 274v7h1v-7zM829 266v12h1v-12zM830 265v5h1v-5zM833 271v12h1v-12zM834 271v8h1v-8zM835 283v2h1v-2zM836 281v6h1v-6zM837 280v2h1v-2zM838 283v5h1v-5zM840 280v5h1v-5zM840 296v3h1v-3zM841 295v5h1v-5zM842 283v4h1v-4zM842 290v8h1v-8zM843 278v5h1v-5zM844 271v28h1v-28zM846 278v6h1v-6zM847 284v3h1v-3zM848 284v9h1v-9zM850 287v8h1v-8zM852 286v5h1v-5zM855 297v5h1v-5zM855 306v5h1v-5zM856 299v8h1v-8zM858 288v4h1v-4zM858 296v10h1v-10zM861 299v7h1v-7zM862 301v5h1v-5zM864 319v1h1v-1zM867 335v18h1v-18zM868 327v9h1v-9zM869 343v4h1v-4zM870 330v13h1v-13zM871 328v7h1v-7zM873 328v1h1v-1zM874 323v5h1v-5zM874 330v7h1v-7zM875 322v9h1v-9zM876 324v9h1v-9zM879 339v20h1v-20zM881 344v7h1v-7zM883 335v5h1v-5zM883 341v16h1v-16zM885 341v5h1v-5zM886 330v12h1v-12zM888 335v1h1v-1zM889 329v6h1v-6zM890 325v2h1v-2zM891 325v6h1v-6zM892 316v9h1v-9zM893 317v18h1v-18zM894 316v22h1v-22zM895 302v15h1v-15zM897 300v9h1v-9zM900 304v2h1v-2zM900 310v1h1v-1zM903 301v12h1v-12zM905 309v6h1v-6zM906 300v10h1v-10zM907 298v10h1v-10zM908 294v6h1v-6zM909 277v5h1v-5zM909 287v8h1v-8zM910 277v10h1v-10zM910 290v5h1v-5zM911 277v11h1v-11zM913 245v5h1v-5zM913 263v6h1v-6zM913 270v3h1v-3zM913 275v12h1v-12zM914 241v35h1v-35zM917 253v12h1v-12zM919 272v2h1v-2zM922 278v6h1v-6zM923 280v6h1v-6zM926 285v3h1v-3zM926 295v1h1v-1zM927 289v8h1v-8zM929 292v6h1v-6zM929 302v2h1v-2zM929 310v8h1v-8zM930 312v9h1v-9zM932 311v2h1v-2zM932 317v8h1v-8zM933 306v11h1v-11zM934 302v7h1v-7zM935 288v16h1v-16zM937 290v9h1v-9zM938 295v3h1v-3zM939 292v2h1v-2zM939 301v1h1v-1zM939 303v5h1v-5zM940 301v7h1v-7zM942 297v3h1v-3zM943 278v19h1v-19zM944 275v4h1v-4zM944 281v7h1v-7zM945 276v10h1v-10zM948 299v7h1v-7zM949 291v9h1v-9zM950 281v7h1v-7zM951 286v2h1v-2zM952 278v7h1v-7zM953 275v6h1v-6zM954 272v2h1v-2zM956 283v5h1v-5zM958 289v3h1v-3zM958 295v1h1v-1zM959 289v6h1v-6zM961 310v3h1v-3zM964 322v1h1v-1zM966 319v11h1v-11zM967 333v6h1v-6zM968 333v5h1v-5zM969 340v6h1v-6zM970 329v12h1v-12zM971 322v7h1v-7zM972 318v1h1v-1zM972 333v1h1v-1zM974 326v6h1v-6zM975 333v1h1v-1zM976 321v5h1v-5zM980 345v7h1v-7zM981 341v11h1v-11zM982 336v1h1v-1zM983 338v4h1v-4zM984 336v6h1v-6zM984 345v10h1v-10zM985 321v3h1v-3zM985 334v12h1v-12zM986 320v30h1v-30zM987 315v5h1v-5zM989 315v4h1v-4zM990 325v7h1v-7zM990 364v17h1v-17zM991 360v10h1v-10zM992 364v6h1v-6zM994 359v19h1v-19zM994 384v7h1v-7zM995 380v14h1v-14zM998 380v25h1v-25zM1000 384v4h1v-4zM1001 388v5h1v-5zM1003 393v5h1v-5zM1005 410v6h1v-6zM1006 404v4h1v-4zM1008 449v14h1v-14zM1009 449v6h1v-6zM1010 439v32h1v-32zM1011 456v6h1v-6zM1013 437v1h1v-1zM1013 447v14h1v-14zM1014 442v6h1v-6zM1015 432v2h1v-2zM1015 440v3h1v-3zM1017 423v18h1v-18zM1018 400v27h1v-27zM1019 419v5h1v-5zM1020 424v10h1v-10zM1022 413v4h1v-4zM1022 418v11h1v-11zM1023 410v8h1v-8zM1024 408v5h1v-5zM1025 407v3h1v-3zM1026 402v6h1v-6zM1027 400v3h1v-3zM1029 403v14h1v-14zM1031 406v10h1v-10zM1032 415v6h1v-6zM1033 409v6h1v-6zM1034 380v5h1v-5zM1034 411v9h1v-9zM1035 370v5h1v-5zM1035 377v35h1v-35zM1036 366v12h1v-12zM1036 387v6h1v-6zM1037 361v1h1v-1zM1039 376v12h1v-12zM1040 369v8h1v-8zM1041 379v8h1v-8zM1042 381v5h1v-5zM1043 377v2h1v-2zM1044 373v7h1v-7zM1045 373v9h1v-9zM1048 385v7h1v-7zM1049 387v4h1v-4zM1050 374v20h1v-20zM1052 366v21h1v-21zM1054 383v11h1v-11zM1057 408v3h1v-3zM1057 418v3h1v-3zM1058 379v34h1v-34zM1060 390v7h1v-7zM1063 407v13h1v-13zM1064 398v9h1v-9zM1064 413v4h1v-4zM1065 404v5h1v-5zM1066 404v5h1v-5zM1067 421v15h1v-15zM1067 441v4h1v-4zM1068 426v15h1v-15zM1069 422v3h1v-3zM1070 428v13h1v-13zM1072 435v8h1v-8zM1073 429v14h1v-14zM1074 429v7h1v-7zM1075 429v12h1v-12zM1076 437v4h1v-4zM1077 444v11h1v-11zM1078 447v6h1v-6zM1079 455v1h1v-1zM1080 477v4h1v-4zM1081 500v5h1v-5zM1082 486v23h1v-23zM1084 480v14h1v-14zM1085 472v6h1v-6zM1085 479v2h1v-2zM1085 485v6h1v-6zM1087 480v4h1v-4zM1087 485v12h1v-12zM1090 528v8h1v-8zM1091 506v22h1v-22zM1092 503v2h1v-2zM1093 504v4h1v-4zM1096 509v7h1v-7zM1096 548v8h1v-8zM1097 544v5h1v-5zM1098 510v36h1v-36zM1099 500v17h1v-17zM1100 463v18h1v-18zM1100 487v13h1v-13zM1103 476v20h1v-20zM1104 472v6h1v-6zM1106 491v12h1v-12zM1107 489v19h1v-19zM1108 485v6h1v-6zM1109 430v57h1v-57zM1110 424v24h1v-24zM1111 423v3h1v-3zM1111 431v6h1v-6zM1112 407v19h1v-19zM1114 405v4h1v-4zM1114 414v6h1v-6zM1114 423v26h1v-26zM1115 305v20h1v-20zM1115 334v80h1v-80zM1116 327v2h1v-2zM1117 313v12h1v-12zM1117 328v30h1v-30zM1118 309v5h1v-5zM1118 319v9h1v-9zM1119 322v17h1v-17zM1120 298v22h1v-22zM1122 322v17h1v-17zM1123 317v5h1v-5zM1123 324v7h1v-7zM1124 295v30h1v-30zM1126 308v2h1v-2zM1127 282v25h1v-25zM1128 278v6h1v-6zM1131 306v7h1v-7zM1131 317v4h1v-4zM1132 317v5h1v-5zM1134 287v38h1v-38zM1134 329v2h1v-2zM1135 325v6h1v-6zM1136 305v19h1v-19zM1137 293v5h1v-5zM1137 304v8h1v-8zM1137 317v5h1v-5zM1138 315v7h1v-7zM1141 325v5h1v-5zM1141 364v5h1v-5zM1142 393v5h1v-5zM1143 414v12h1v-12zM1143 444v1h1v-1zM1144 432v12h1v-12zM1145 395v42h1v-42zM1147 398v1h1v-1zM1148 382v31h1v-31zM1149 381v4h1v-4zM1150 373v10h1v-10zM1150 384v5h1v-5zM1151 368v3h1v-3zM1152 377v17h1v-17zM1155 418v12h1v-12zM1157 459v6h1v-6zM1158 426v38h1v-38zM1159 406v22h1v-22zM1160 391v20h1v-20zM1161 387v5h1v-5zM1161 394v7h1v-7zM1162 373v17h1v-17zM1166 399v9h1v-9zM1167 387v12h1v-12zM1168 360v2h1v-2zM1168 373v15h1v-15zM1169 355v11h1v-11zM1169 372v1h1v-1zM1173 367v21h1v-21zM1174 359v15h1v-15zM1175 350v9h1v-9zM1176 347v1h1v-1zM1177 356v3h1v-3zM1177 363v2h1v-2zM1177 369v4h1v-4zM1179 365v8h1v-8zM1180 390v17h1v-17zM1181 386v5h1v-5zM1181 396v6h1v-6zM1183 393v13h1v-13zM1185 405v5h1v-5zM1186 374v5h1v-5zM1186 383v22h1v-22zM1187 370v11h1v-11zM1188 376v6h1v-6zM1191 433v12h1v-12zM1193 428v6h1v-6zM1193 438v5h1v-5zM1194 418v1h1v-1zM1195 423v10h1v-10zM1197 427v9h1v-9zM1199 430v13h1v-13zM1200 409v6h1v-6zM1200 426v5h1v-5zM1201 395v16h1v-16zM1201 418v11h1v-11zM1202 415v3h1v-3zM1203 397v18h1v-18zM1204 411v4h1v-4zM1205 406v7h1v-7zM1206 403v2h1v-2zM1206 409v12h1v-12zM1207 403v1h1v-1zM1209 415v5h1v-5zM1209 434v6h1v-6zM1210 412v22h1v-22zM1212 416v17h1v-17zM1216 429v7h1v-7zM1218 467v1h1v-1zM1219 463v1h1v-1zM1220 443v4h1v-4zM1220 452v42h1v-42zM1221 442v10h1v-10zM1221 484v6h1v-6zM1222 446v6h1v-6zM1226 455v22h1v-22zM1227 448v7h1v-7zM1227 464v6h1v-6zM1229 443v5h1v-5zM1230 470v10h1v-10zM1230 487v4h1v-4zM1234 511v6h1v-6zM1235 543v8h1v-8zM1236 504v2h1v-2zM1236 507v37h1v-37zM1237 477v37h1v-37zM1239 458v29h1v-29zM1240 454v1h1v-1zM1240 476v4h1v-4zM1241 481v2h1v-2zM1242 466v4h1v-4zM1242 478v6h1v-6zM1243 470v3h1v-3zM1243 476v6h1v-6zM1244 452v6h1v-6zM1244 466v13h1v-13zM1245 423v47h1v-47zM1246 408v22h1v-22zM1248 440v6h1v-6zM1250 352v102h1v-102zM1251 363v5h1v-5zM1252 446v24h1v-24zM1253 448v6h1v-6zM1253 480v9h1v-9zM1254 458v12h1v-12zM1254 476v5h1v-5zM1254 483v5h1v-5zM1255 450v6h1v-6zM1255 477v3h1v-3zM1255 491v8h1v-8zM1256 459v11h1v-11zM1257 452v9h1v-9zM1257 467v33h1v-33zM1258 442v18h1v-18zM1260 443v27h1v-27zM1261 458v12h1v-12zM1262 461v4h1v-4zM1262 475v5h1v-5zM1263 466v14h1v-14zM1264 431v34h1v-34zM1266 439v11h1v-11zM1266 454v1h1v-1zM1267 387v3h1v-3zM1267 415v7h1v-7zM1267 431v23h1v-23zM1268 385v47h1v-47zM1270 402v6h1v-6zM1270 411v8h1v-8zM1271 404v25h1v-25zM1272 407v38h1v-38zM1273 413v5h1v-5zM1274 422v3h1v-3zM1276 441v3h1v-3zM1277 425v17h1v-17zM1277 444v2h1v-2zM1279 512v6h1v-6zM1280 455v5h1v-5zM1281 514v5h1v-5zM1282 511v26h1v-26zM1283 508v1h1v-1zM1284 502v36h1v-36zM1285 475v28h1v-28zM1286 464v6h1v-6zM1287 477v13h1v-13zM1289 481v10h1v-10zM1290 444v6h1v-6zM1291 386v15h1v-15zM1291 407v95h1v-95zM1293 410v21h1v-21zM1295 392v46h1v-46zM1296 419v6h1v-6zM1298 405v5h1v-5zM1298 433v13h1v-13zM1299 434v2h1v-2zM1299 468v5h1v-5zM1300 468v7h1v-7zM1301 452v14h1v-14zM1301 467v8h1v-8zM1302 451v2h1v-2zM1303 432v4h1v-4zM1303 441v7h1v-7zM1304 439v19h1v-19zM1305 424v15h1v-15zM1306 416v7h1v-7zM1307 411v21h1v-21zM1308 416v20h1v-20zM1310 423v12h1v-12zM1311 417v7h1v-7zM1313 418v6h1v-6zM1313 427v13h1v-13zM1316 444v2h1v-2zM1317 433v6h1v-6zM1318 448v12h1v-12zM1319 431v17h1v-17zM1320 433v3h1v-3zM1322 454v4h1v-4zM1323 461v7h1v-7zM1323 470v20h1v-20zM1324 457v14h1v-14zM1325 450v8h1v-8zM1326 439v10h1v-10zM1327 438v5h1v-5zM1328 422v17h1v-17zM1329 408v5h1v-5zM1329 420v2h1v-2zM1333 412v20h1v-20zM1334 410v6h1v-6zM1337 410v8h1v-8zM1338 386v30h1v-30zM1339 386v12h1v-12zM1340 354v6h1v-6zM1340 363v7h1v-7zM1340 374v13h1v-13zM1341 353v11h1v-11zM1341 367v7h1v-7zM1342 341v12h1v-12zM1342 368v4h1v-4zM1343 334v7h1v-7zM1344 298v36h1v-36zM1345 316v5h1v-5zM1346 303v6h1v-6zM1346 313v9h1v-9zM1347 294v22h1v-22zM1348 285v10h1v-10zM1350 309v14h1v-14zM1352 320v3h1v-3zM1353 306v15h1v-15zM1355 312v11h1v-11zM1355 325v5h1v-5zM1357 353v4h1v-4zM1357 374v13h1v-13zM1358 370v4h1v-4zM1360 357v13h1v-13zM1360 379v7h1v-7zM1361 367v18h1v-18zM1362 354v10h1v-10zM1362 370v7h1v-7zM1363 328v6h1v-6zM1363 339v16h1v-16zM1364 330v3h1v-3zM1365 321v20h1v-20zM1366 319v40h1v-40zM1367 348v4h1v-4zM1368 324v20h1v-20zM1369 321v4h1v-4zM1370 323v7h1v-7zM1373 336v14h1v-14zM1374 345v2h1v-2zM1375 333v11h1v-11zM1376 333v9h1v-9zM1377 318v17h1v-17zM1378 325v1h1v-1zM1379 322v12h1v-12zM1380 320v6h1v-6zM1381 310v11h1v-11zM1382 284v27h1v-27zM1383 285v5h1v-5zM1384 289v6h1v-6zM1386 313v23h1v-23zM1387 304v10h1v-10zM1387 330v3h1v-3zM1388 297v8h1v-8zM1392 319v2h1v-2zM1392 330v1h1v-1zM1395 329v1h1v-1zM1396 332v3h1v-3zM1396 342v10h1v-10zM1398 336v6h1v-6zM1399 313v25h1v-25zM1401 317v6h1v-6zM1403 316v1h1v-1zM1403 321v3h1v-3zM1407 342v1h1v-1zM1408 330v11h1v-11zM1411 332v8h1v-8zM1412 330v6h1v-6zM1413 326v5h1v-5zM1413 332v4h1v-4zM1415 322v13h1v-13zM1417 317v6h1v-6zM1419 319v4h1v-4zM1420 330v5h1v-5zM1421 319v12h1v-12zM1422 315v6h1v-6zM1423 300v18h1v-18zM1424 311v6h1v-6zM1425 311v4h1v-4zM1426 309v6h1v-6zM1427 307v5h1v-5zM1427 313v4h1v-4zM1430 323v9h1v-9zM1431 324v8h1v-8zM1432 320v6h1v-6zM1432 327v6h1v-6zM1437 349v2h1v-2zM1439 350v6h1v-6zM1442 355v1h1v-1zM1443 354v4h1v-4zM1443 363v7h1v-7zM1446 356v10h1v-10zM1447 345v11h1v-11zM1448 341v5h1v-5zM1450 341v2h1v-2zM1451 341v8h1v-8zM1452 335v6h1v-6zM1453 330v8h1v-8zM1454 330v3h1v-3zM1456 327v3h1v-3zM1456 335v9h1v-9zM1458 331v12h1v-12zM1462 358v5h1v-5zM1465 343v21h1v-21zM1465 368v8h1v-8zM1466 338v13h1v-13zM1467 337v5h1v-5zM1468 321v16h1v-16zM1469 293v29h1v-29zM1471 290v3h1v-3zM1472 280v22h1v-22zM1473 250v31h1v-31zM1474 246v3h1v-3zM1474 255v6h1v-6zM1474 276v5h1v-5zM1477 283v7h1v-7zM1478 277v7h1v-7zM1479 268v1h1v-1zM1479 278v4h1v-4zM1480 272v12h1v-12zM1481 272v16h1v-16zM1482 269v6h1v-6zM1483 271v2h1v-2zM1483 289v1h1v-1zM1484 281v7h1v-7zM1485 311v6h1v-6zM1487 309v8h1v-8zM1488 311v7h1v-7zM1490 312v10h1v-10zM1492 358v18h1v-18zM1492 389v5h1v-5zM1494 368v35h1v-35zM1496 369v11h1v-11zM1497 369v11h1v-11zM1498 356v14h1v-14zM1499 357v3h1v-3zM1499 363v1h1v-1zM1500 359v5h1v-5zM1501 343v6h1v-6zM1501 351v11h1v-11zM1502 345v7h1v-7zM1503 347v2h1v-2zM1505 345v7h1v-7zM1508 356v7h1v-7zM1514 361v3h1v-3zM1514 371v4h1v-4zM1515 366v7h1v-7zM1519 371v5h1v-5zM1519 378v8h1v-8zM1520 370v1h1v-1zM1520 374v7h1v-7zM1521 375v6h1v-6zM1522 365v3h1v-3zM1523 369v8h1v-8zM1524 367v17h1v-17zM1525 352v15h1v-15zM1527 359v4h1v-4zM1528 377v6h1v-6zM1529 362v6h1v-6zM1529 376v9h1v-9zM1530 376v6h1v-6zM1531 388v6h1v-6zM1532 379v5h1v-5zM1532 388v8h1v-8zM1533 379v11h1v-11zM1534 381v1h1v-1zM1535 375v6h1v-6zM1536 376v10h1v-10zM1537 368v9h1v-9zM1538 368v6h1v-6zM1542 364v6h1v-6zM1543 369v6h1v-6zM1544 348v19h1v-19zM1545 332v19h1v-19zM1547 330v5h1v-5zM1548 331v3h1v-3zM1549 327v6h1v-6zM1550 328v3h1v-3zM1550 338v7h1v-7zM1552 352v6h1v-6zM1553 353v6h1v-6zM1556 370v4h1v-4zM1557 363v10h1v-10zM1558 362v6h1v-6zM1559 354v8h1v-8zM1560 350v10h1v-10zM1560 361v2h1v-2zM1561 348v1h1v-1zM1563 353v4h1v-4zM1564 352v9h1v-9zM1565 351v4h1v-4zM1568 349v4h1v-4zM1568 360v1h1v-1zM1569 349v10h1v-10zM1570 347v7h1v-7zM1571 349v5h1v-5zM1572 339v8h1v-8zM1573 341v3h1v-3zM1574 339v6h1v-6zM1576 342v2h1v-2zM1577 347v5h1v-5zM1578 346v8h1v-8zM1579 349v6h1v-6zM1580 348v7h1v-7zM1581 343v14h1v-14zM1582 340v5h1v-5zM1583 338v1h1v-1zM1583 345v2h1v-2zM1585 343v3h1v-3z"/>
<g id="logo" fill="#161616" shape-rendering="geometricPrecision">
<path d="M10.1 693.2H17.9V702.8H14V696.7H10.1Z"/>
<circle cx="21" cy="694.9" r="1.75"/>
<path d="M23.9 693.2H29.5L26 702.8H21.2Z"/>
</g>
</svg>
<div class="box" style="left:1399px;top:653px;width:112px;height:24px;background:#4caf50;border-radius:0 0 2px 2px;"></div>
<div class="box" style="left:1623px;top:341px;width:58px;height:17px;background:#089981;border-radius:2px 0 0 2px;"></div>
<div class="box" style="left:1682px;top:341px;width:59px;height:17px;background:#089981;border-radius:0 2px 2px 0;"></div>
<div class="box" style="left:1682px;top:637px;width:25px;height:16px;background:#26a69a;border-radius:0 1px 1px 0;"></div>
<div id="clip"><div id="inner">
<span class="x" style="left:6.40px;top:659.84px;font-size:12px;line-height:14px;transform:scaleX(0.9723);">06:00</span>
</div></div>
<span class="x" style="left:10.00px;top:7.64px;font-size:12px;line-height:14px;transform:scaleX(0.9674);">Published</span>
<span class="x" style="left:65.20px;top:7.64px;font-size:12px;line-height:14px;transform:scaleX(0.9432);">on</span>
<span class="x" style="left:81.60px;top:7.64px;font-size:12px;line-height:14px;transform:scaleX(0.9987);">TradingView.com,</span>
<span class="x" style="left:180.50px;top:7.64px;font-size:12px;line-height:14px;transform:scaleX(0.9298);">Jun</span>
<span class="x" style="left:204.00px;top:7.64px;font-size:12px;line-height:14px;transform:scaleX(0.9228);">19,</span>
<span class="x" style="left:223.30px;top:7.64px;font-size:12px;line-height:14px;transform:scaleX(0.9325);">2025</span>
<span class="x" style="left:251.80px;top:7.64px;font-size:12px;line-height:14px;transform:scaleX(0.9757);">03:51</span>
<span class="x" style="left:285.20px;top:7.64px;font-size:12px;line-height:14px;transform:scaleX(0.8836);">UTC</span>
<span class="x" style="left:18.00px;top:34.74px;font-size:12px;line-height:14px;transform:scaleX(0.9917);">Ethereum</span>
<span class="x" style="left:75.20px;top:34.74px;font-size:12px;line-height:14px;transform:scaleX(1.0000);">/</span>
<span class="x" style="left:83.80px;top:34.74px;font-size:12px;line-height:14px;transform:scaleX(0.9574);">TetherUS</span>
<span class="x" style="left:134.80px;top:34.74px;font-size:12px;line-height:14px;transform:scaleX(1.0000);-webkit-text-stroke:0.7px currentColor;">·</span>
<span class="x" style="left:143.10px;top:34.74px;font-size:12px;line-height:14px;transform:scaleX(1.0000);">1</span>
<span class="x" style="left:153.20px;top:34.74px;font-size:12px;line-height:14px;transform:scaleX(1.0000);-webkit-text-stroke:0.7px currentColor;">·</span>
<span class="x" style="left:161.60px;top:34.74px;font-size:12px;line-height:14px;transform:scaleX(0.9614);">Binance</span>
<span class="x" style="left:210.60px;top:34.74px;font-size:12px;line-height:14px;transform:scaleX(0.8990);">O</span>
<span class="x" style="left:219.30px;top:34.74px;font-size:12px;line-height:14px;transform:scaleX(0.9782);color:#089981;">2,519.77</span>
<span class="x" style="left:272.60px;top:34.74px;font-size:12px;line-height:14px;transform:scaleX(0.8764);">H</span>
<span class="x" style="left:280.50px;top:34.74px;font-size:12px;line-height:14px;transform:scaleX(0.9782);color:#089981;">2,520.35</span>
<span class="x" style="left:334.40px;top:34.74px;font-size:12px;line-height:14px;transform:scaleX(0.9271);">L</span>
<span class="x" style="left:341.00px;top:34.74px;font-size:12px;line-height:14px;transform:scaleX(0.9718);color:#089981;">2,519.76</span>
<span class="x" style="left:394.20px;top:34.74px;font-size:12px;line-height:14px;transform:scaleX(0.8418);">C</span>
<span class="x" style="left:401.70px;top:34.74px;font-size:12px;line-height:14px;transform:scaleX(0.9803);color:#089981;">2,520.34</span>
<span class="x" style="left:455.70px;top:34.74px;font-size:12px;line-height:14px;transform:scaleX(0.9343);color:#089981;">+0.56 (+0.02%)</span>
<span class="x" style="left:18.00px;top:52.34px;font-size:12px;line-height:14px;transform:scaleX(1.0000);">Vol</span>
<span class="x" style="left:38.30px;top:52.34px;font-size:12px;line-height:14px;transform:scaleX(1.0000);-webkit-text-stroke:0.7px currentColor;">·</span>
<span class="x" style="left:45.60px;top:52.34px;font-size:12px;line-height:14px;transform:scaleX(0.9250);">ETH</span>
<span class="x" style="left:74.70px;top:52.34px;font-size:12px;line-height:14px;transform:scaleX(0.9057);color:#26a69a;">36</span>
<span class="x" style="left:1689.30px;top:38.09px;font-size:12px;line-height:14px;transform:scaleX(0.9910);">2,600.00</span>
<span class="x" style="left:1689.30px;top:76.09px;font-size:12px;line-height:14px;transform:scaleX(0.9910);">2,590.00</span>
<span class="x" style="left:1689.30px;top:114.09px;font-size:12px;line-height:14px;transform:scaleX(0.9910);">2,580.00</span>
<span class="x" style="left:1689.30px;top:152.09px;font-size:12px;line-height:14px;transform:scaleX(0.9910);">2,570.00</span>
<span class="x" style="left:1689.30px;top:190.09px;font-size:12px;line-height:14px;transform:scaleX(0.9910);">2,560.00</span>
<span class="x" style="left:1689.30px;top:229.09px;font-size:12px;line-height:14px;transform:scaleX(0.9910);">2,550.00</span>
<span class="x" style="left:1689.30px;top:267.09px;font-size:12px;line-height:14px;transform:scaleX(0.9910);">2,540.00</span>
<span class="x" style="left:1689.30px;top:305.09px;font-size:12px;line-height:14px;transform:scaleX(0.9910);">2,530.00</span>
<span class="x" style="left:1689.30px;top:381.09px;font-size:12px;line-height:14px;transform:scaleX(0.9910);">2,510.00</span>
<span class="x" style="left:1689.30px;top:419.09px;font-size:12px;line-height:14px;transform:scaleX(0.9910);">2,500.00</span>
<span class="x" style="left:1689.30px;top:457.09px;font-size:12px;line-height:14px;transform:scaleX(0.9910);">2,490.00</span>
<span class="x" style="left:1689.30px;top:495.09px;font-size:12px;line-height:14px;transform:scaleX(0.9910);">2,480.00</span>
<span class="x" style="left:1689.30px;top:533.09px;font-size:12px;line-height:14px;transform:scaleX(0.9910);">2,470.00</span>
<span class="x" style="left:1689.30px;top:571.09px;font-size:12px;line-height:14px;transform:scaleX(0.9910);">2,460.00</span>
<span class="x" style="left:1689.30px;top:609.09px;font-size:12px;line-height:14px;transform:scaleX(0.9910);">2,450.00</span>
<span class="x" style="left:108.80px;top:659.84px;font-size:12px;line-height:14px;transform:scaleX(0.9723);">09:00</span>
<span class="x" style="left:211.20px;top:659.84px;font-size:12px;line-height:14px;transform:scaleX(0.9723);">12:00</span>
<span class="x" style="left:313.60px;top:659.84px;font-size:12px;line-height:14px;transform:scaleX(0.9723);">15:00</span>
<span class="x" style="left:416.00px;top:659.84px;font-size:12px;line-height:14px;transform:scaleX(0.9723);">18:00</span>
<span class="x" style="left:518.40px;top:659.84px;font-size:12px;line-height:14px;transform:scaleX(0.9723);">21:00</span>
<span class="x" style="left:629.10px;top:659.84px;font-size:12px;line-height:14px;transform:scaleX(0.9881);font-weight:700;-webkit-text-stroke:0.35px;">18</span>
<span class="x" style="left:723.20px;top:659.84px;font-size:12px;line-height:14px;transform:scaleX(0.9723);">03:00</span>
<span class="x" style="left:825.60px;top:659.84px;font-size:12px;line-height:14px;transform:scaleX(0.9723);">06:00</span>
<span class="x" style="left:928.00px;top:659.84px;font-size:12px;line-height:14px;transform:scaleX(0.9723);">09:00</span>
<span class="x" style="left:1030.40px;top:659.84px;font-size:12px;line-height:14px;transform:scaleX(0.9723);">12:00</span>
<span class="x" style="left:1132.80px;top:659.84px;font-size:12px;line-height:14px;transform:scaleX(0.9723);">15:00</span>
<span class="x" style="left:1235.20px;top:659.84px;font-size:12px;line-height:14px;transform:scaleX(0.9723);">18:00</span>
<span class="x" style="left:1337.60px;top:659.84px;font-size:12px;line-height:14px;transform:scaleX(0.9723);">21:00</span>
<span class="x" style="left:1542.40px;top:659.84px;font-size:12px;line-height:14px;transform:scaleX(0.9723);">03:00</span>
<span class="x" style="left:1644.80px;top:659.84px;font-size:12px;line-height:14px;transform:scaleX(0.9723);">06:00</span>
<span class="x" style="left:1408.00px;top:660.74px;font-size:12px;line-height:14px;transform:scaleX(0.9034);font-weight:700;-webkit-text-stroke:0px;color:#fff;">19 Jun '25</span>
<span class="x" style="left:1471.30px;top:660.74px;font-size:12px;line-height:14px;transform:scaleX(0.9608);font-weight:700;-webkit-text-stroke:0px;color:#fff;">00:00</span>
<span class="x" style="left:1628.00px;top:342.54px;font-size:12px;line-height:14px;transform:scaleX(0.8435);color:#fff;">ETHUSDT</span>
<span class="x" style="left:1689.20px;top:342.54px;font-size:12px;line-height:14px;transform:scaleX(0.9932);color:#fff;">2,520.34</span>
<span class="x" style="left:1689.00px;top:639.14px;font-size:12px;line-height:14px;transform:scaleX(0.8982);color:#fff;">36</span>
<span class="x" style="left:33.30px;top:691.77px;font-size:12.5px;line-height:15px;transform:scaleX(1.0204);color:#1a1a1a;">TradingView</span>
</body>
</html>
